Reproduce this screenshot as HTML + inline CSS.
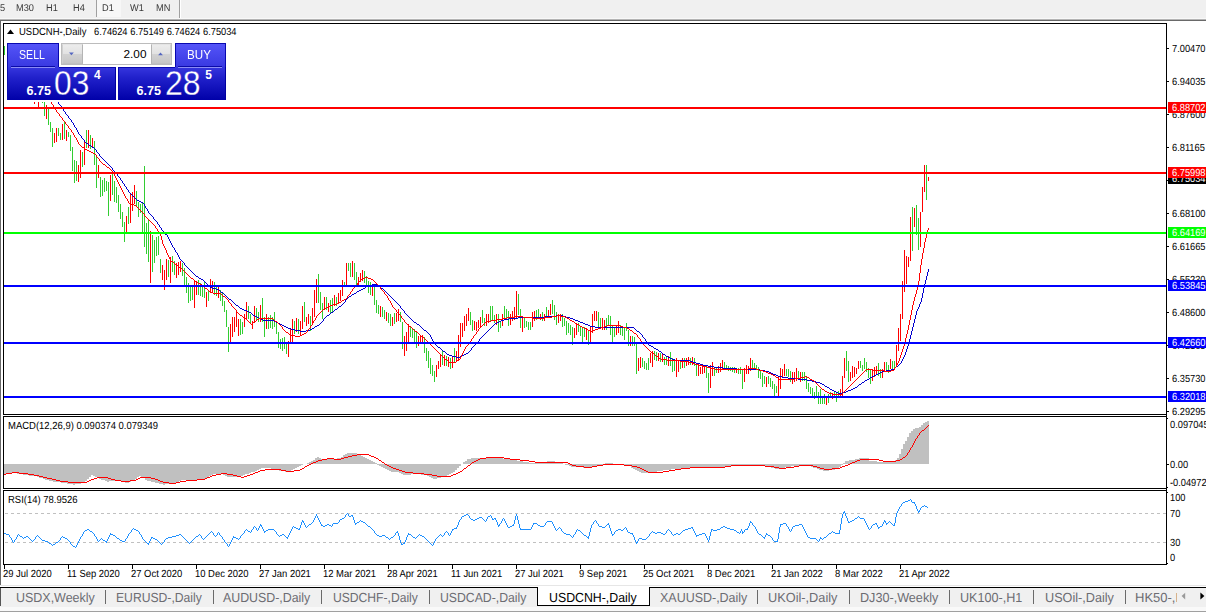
<!DOCTYPE html>
<html><head><meta charset="utf-8"><title>USDCNH-,Daily</title>
<style>
html,body{margin:0;padding:0;background:#fff;overflow:hidden}
body{width:1206px;height:612px;position:relative;font-family:"Liberation Sans",sans-serif;color:#000}
#root{position:absolute;left:0;top:0;width:1206px;height:612px;overflow:hidden;background:#fff}
#tbar{position:absolute;left:0;top:0;width:1206px;height:19px;background:#f0f0f0;filter:grayscale(1)}
#tbar span{position:absolute;top:1.9px;font-size:9.8px;line-height:11px;color:#383838;white-space:nowrap;transform:rotate(0.03deg) scaleX(.94);transform-origin:0 50%}
#tbar .vs{position:absolute;top:0;width:1px;background:#a0a0a0}
#d1bg{position:absolute;left:97px;top:0;width:24px;height:17px;background:#f7f7f7}
#band1{position:absolute;left:0;top:18px;width:1206px;height:1px;background:#f8f8f8}
#band2{position:absolute;left:0;top:19px;width:1206px;height:1px;background:#b4b4b4}
#band3{position:absolute;left:0;top:20px;width:1206px;height:1px;background:#696969}
#lbord{position:absolute;left:0;top:20px;width:1px;height:565px;background:#696969}
svg#ch{position:absolute;left:0;top:0}
.ax{position:absolute;left:1171.6px;font-size:10.3px;line-height:12px;height:12px;white-space:nowrap;transform:rotate(0.03deg) scaleX(.9);transform-origin:0 50%}
.pl{position:absolute;left:1168px;width:38px;height:11px;overflow:hidden}
.pl span{position:absolute;left:3.6px;top:0;font-size:10.3px;line-height:11px;color:#fff;white-space:nowrap;transform:rotate(0.03deg) scaleX(.9);transform-origin:0 50%}
.dt{position:absolute;top:568px;font-size:10.3px;line-height:12px;white-space:nowrap;transform:rotate(0.03deg) scaleX(.915);transform-origin:0 50%}
.ttl{position:absolute;font-size:10.3px;line-height:12px;white-space:nowrap;transform:rotate(0.03deg) scaleX(.92);transform-origin:0 50%}
/* quick trade panel */
.qb{position:absolute;box-sizing:border-box;background:linear-gradient(#5454f8 0px,#3a3ae2 22px,#2222cc 34px,#0000a8 57px);background-size:100% 57px}
#sellU{left:7px;top:43px;width:52px;height:25px;background-position:0 0;border:1px solid #0808b0;border-bottom:none}
#sellL{left:7px;top:67px;width:109px;height:33px;background-position:0 -24px;border-left:1px solid #0808b0;border-right:1px solid #0000a0}
#buyU{left:175px;top:43px;width:51px;height:25px;background-position:0 0;border:1px solid #0808b0;border-bottom:none}
#buyL{left:118px;top:67px;width:108px;height:33px;background-position:0 -24px;border-left:1px solid #0808b0;border-right:1px solid #0000a0}
.ul{position:absolute;top:66px;height:1px;background:#0a0aa8;border-bottom:1px solid #8c8cf4}
.bt{position:absolute;top:48.5px;font-size:12.2px;line-height:13px;color:#fff;white-space:nowrap;transform-origin:0 0}
.sm{position:absolute;top:84.6px;font-size:12.6px;line-height:12px;font-weight:bold;color:#fff;white-space:nowrap}
.sup{position:absolute;top:68.6px;font-size:12px;line-height:12px;font-weight:bold;color:#fff}
#spin{position:absolute;left:61px;top:43px;width:111px;height:22px;border:1px solid #bcbcbc;box-sizing:border-box;background:#fff}
.sb{position:absolute;top:0px;width:20.5px;height:20px;background:linear-gradient(#ececec,#e2e2e2 48%,#d2d2d2 52%,#c6c6c6);border:1px solid #d6d6d6;border-color:#e4e4e4 #b4b4b4 #c0c0c0 #d0d0d0;box-sizing:border-box}
#vol{position:absolute;left:100px;top:47.5px;width:46.5px;text-align:right;font-size:11.8px;line-height:13px}
/* tabs */
#tabline0{position:absolute;left:0;top:585px;width:1206px;height:1px;background:#e6e6e6}
#tabbar{position:absolute;left:0;top:587px;width:1206px;height:20px;background:#f0f0f0;border-top:1px solid #000;box-sizing:border-box;overflow:hidden}
#tabbar .tb{position:absolute;top:2.6px;font-size:13.2px;line-height:14px;color:#6c6c72;white-space:nowrap;transform:rotate(0.03deg) scaleX(.935);transform-origin:0 50%}
#tabbar .sp{position:absolute;top:2px;width:1px;height:14px;background:#6a6a6a}
#act{position:absolute;left:537px;top:587px;width:113px;height:19px;background:#fff;border:1px solid #000;border-top:none;box-sizing:border-box}
#act span{position:absolute;left:11.3px;top:3.6px;font-size:13.2px;line-height:14px;color:#000;white-space:nowrap;transform:rotate(0.03deg) scaleX(.935);transform-origin:0 50%}
#tabL{position:absolute;left:0;top:588px;width:1px;height:18px;background:#555}
#arr{position:absolute;left:1177px;top:588px;width:29px;height:19px;background:#f0f0f0}
#bot1{position:absolute;left:0;top:607px;width:1206px;height:4px;background:#f9f9f9}
#bot2{position:absolute;left:0;top:611px;width:1206px;height:1px;background:#a0a0a0}
</style></head>
<body><div id="root">
<div id="tbar">
 <div id="d1bg"></div>
 <span style="left:0px">5</span><span style="left:15.5px">M30</span><span style="left:46px">H1</span><span style="left:73px">H4</span>
 <span style="left:102.2px">D1</span><span style="left:129.7px">W1</span><span style="left:156.1px">MN</span>
 <i class="vs" style="left:96px;height:17px"></i><i class="vs" style="left:179px;height:19px"></i><i class="vs" style="left:180px;height:19px;background:#fff"></i>
</div>
<div id="band1"></div><div id="band2"></div><div id="band3"></div><div id="lbord"></div>
<svg id="ch" width="1206" height="612" viewBox="0 0 1206 612">
<defs><clipPath id="cm"><rect x="4" y="24" width="1162" height="390"/></clipPath>
<linearGradient id="pg" gradientUnits="userSpaceOnUse" x1="0" y1="43" x2="0" y2="100"><stop offset="0" stop-color="#5454f8"/><stop offset="0.386" stop-color="#3a3ae2"/><stop offset="0.596" stop-color="#2222cc"/><stop offset="1" stop-color="#0000a8"/></linearGradient></defs>
<g clip-path="url(#cm)">
<path d="M4.5 46V55 M42.5 102V103 M44.5 102 V116 M48.5 108 V125 M50.5 122 V132 M52.5 128 V147 M58.5 128 V136 M60.5 133 V140 M64.5 122 V139 M68.5 132 V137 M70.5 135 V151 M72.5 147 V171 M74.5 160 V183 M76.5 161 V181 M82.5 152 V167 M86.5 130 V148 M90.5 135 V149 M94.5 141 V165 M96.5 155 V188 M100.5 177 V197 M102.5 180 V196 M104.5 178 V192 M106.5 181 V191 M108.5 182 V216 M112.5 172 V195 M114.5 181 V202 M116.5 187 V203 M118.5 195 V212 M120.5 204 V219 M122.5 212 V227 M124.5 222 V242 M128.5 207 V224 M136.5 191 V206 M138.5 202 V217 M140.5 204 V213 M142.5 202 V234 M144.5 166 V247 M146.5 223 V254 M148.5 220 V262 M152.5 235 V272 M154.5 240 V263 M156.5 237 V256 M158.5 236 V255 M160.5 259 V273 M168.5 260 V277 M172.5 256 V272 M174.5 261 V275 M182.5 263 V276 M184.5 268 V285 M186.5 277 V293 M188.5 283 V303 M190.5 287 V301 M192.5 285 V300 M198.5 280 V295 M200.5 283 V296 M202.5 285 V297 M204.5 282 V298 M208.5 290 V301 M214.5 282 V295 M216.5 285 V296 M220.5 290 V301 M222.5 293 V306 M224.5 301 V312 M226.5 310 V327 M228.5 327 V352 M240.5 319 V335 M242.5 322 V334 M248.5 306 V319 M250.5 314 V324 M256.5 308 V321 M258.5 312 V322 M262.5 298 V322 M264.5 317 V337 M268.5 317 V329 M270.5 315 V328 M272.5 317 V329 M274.5 312 V327 M276.5 322 V334 M278.5 332 V348 M280.5 339 V349 M282.5 338 V351 M284.5 337 V349 M286.5 342 V354 M294.5 321 V334 M298.5 319 V334 M304.5 302 V322 M310.5 316 V331 M318.5 274 V303 M320.5 292 V310 M322.5 303 V319 M326.5 297 V310 M330.5 300 V313 M332.5 298 V313 M336.5 297 V306 M344.5 282 V287 M348.5 263 V271 M350.5 263 V277 M354.5 263 V280 M356.5 272 V286 M364.5 271 V283 M366.5 276 V286 M368.5 281 V293 M370.5 282 V295 M374.5 287 V305 M376.5 300 V313 M378.5 305 V314 M382.5 307 V317 M384.5 310 V319 M388.5 313 V323 M390.5 314 V326 M394.5 313 V324 M400.5 312 V322 M402.5 322 V349 M410.5 326 V337 M412.5 328 V338 M414.5 329 V342 M416.5 332 V348 M424.5 337 V353 M426.5 348 V361 M428.5 351 V368 M430.5 358 V374 M432.5 365 V376 M434.5 371 V382 M442.5 351 V365 M446.5 356 V366 M450.5 358 V369 M454.5 348 V363 M470.5 312 V325 M472.5 320 V331 M482.5 310 V323 M484.5 318 V326 M490.5 306 V321 M492.5 306 V320 M494.5 315 V323 M498.5 314 V332 M500.5 321 V328 M504.5 306 V318 M506.5 309 V318 M508.5 311 V326 M518.5 294 V315 M520.5 309 V328 M524.5 318 V328 M526.5 321 V327 M528.5 322 V330 M530.5 322 V330 M536.5 310 V320 M538.5 309 V318 M542.5 312 V321 M546.5 307 V318 M552.5 300 V314 M554.5 305 V320 M556.5 312 V325 M562.5 314 V327 M564.5 318 V326 M566.5 321 V335 M568.5 323 V333 M570.5 325 V335 M572.5 327 V345 M578.5 323 V332 M580.5 326 V336 M582.5 327 V344 M584.5 327 V337 M588.5 331 V345 M598.5 312 V328 M600.5 318 V328 M606.5 318 V330 M608.5 315 V326 M610.5 316 V335 M612.5 325 V343 M614.5 327 V337 M620.5 325 V335 M622.5 326 V336 M624.5 327 V340 M626.5 323 V331 M628.5 330 V346 M632.5 336 V346 M634.5 337 V346 M636.5 342 V374 M642.5 358 V367 M644.5 361 V369 M646.5 363 V370 M648.5 358 V370 M654.5 351 V360 M656.5 352 V361 M660.5 353 V362 M664.5 357 V365 M666.5 356 V365 M670.5 352 V366 M672.5 358 V372 M674.5 361 V371 M680.5 361 V369 M684.5 358 V368 M690.5 358 V365 M694.5 358 V366 M696.5 363 V376 M706.5 367 V378 M708.5 373 V393 M714.5 367 V376 M716.5 368 V373 M724.5 362 V368 M726.5 365 V369 M728.5 366 V371 M730.5 367 V371 M732.5 367 V372 M734.5 367 V373 M738.5 368 V374 M740.5 367 V374 M742.5 369 V389 M752.5 360 V369 M754.5 363 V369 M756.5 365 V369 M758.5 367 V378 M760.5 371 V379 M762.5 373 V387 M764.5 376 V384 M768.5 376 V384 M770.5 378 V387 M772.5 381 V389 M774.5 384 V396 M776.5 386 V393 M786.5 369 V376 M788.5 369 V377 M790.5 371 V382 M798.5 371 V379 M802.5 372 V381 M804.5 372 V381 M806.5 376 V389 M808.5 383 V392 M810.5 387 V394 M812.5 388 V398 M814.5 392 V399 M816.5 386 V398 M818.5 392 V404 M820.5 389 V404 M822.5 396 V404 M824.5 394 V404 M828.5 394 V403 M830.5 392 V398 M834.5 392 V398 M836.5 392 V402 M838.5 391 V398 M846.5 351 V371 M848.5 361 V382 M860.5 361 V368 M862.5 365 V371 M864.5 358 V369 M866.5 362 V372 M868.5 368 V378 M870.5 369 V384 M878.5 363 V376 M880.5 369 V378 M886.5 362 V371 M888.5 365 V373 M892.5 361 V369 M894.5 361 V369 M912.5 207 V251 M916.5 205 V235 M918.5 218 V250 M926.5 165 V200" stroke="#32cd32" stroke-width="1" fill="none" shape-rendering="crispEdges"/>
<path d="M34.5 102V104 M38.5 102V107 M46.5 105 V119 M54.5 133 V143 M56.5 128 V142 M62.5 124 V140 M66.5 130 V141 M78.5 165 V182 M80.5 150 V178 M84.5 140 V165 M88.5 130 V148 M92.5 138 V147 M98.5 165 V178 M110.5 175 V201 M126.5 216 V233 M130.5 193 V223 M132.5 192 V211 M134.5 185 V204 M150.5 231 V283 M162.5 265 V280 M164.5 270 V290 M166.5 259 V280 M170.5 257 V283 M176.5 263 V278 M178.5 262 V275 M180.5 261 V272 M194.5 281 V308 M196.5 281 V295 M206.5 292 V307 M210.5 279 V293 M212.5 281 V292 M218.5 286 V298 M230.5 324 V344 M232.5 317 V337 M234.5 317 V332 M236.5 311 V327 M238.5 319 V336 M244.5 314 V327 M246.5 302 V319 M252.5 321 V329 M254.5 306 V323 M260.5 305 V322 M266.5 314 V329 M288.5 341 V357 M290.5 329 V342 M292.5 319 V342 M296.5 318 V332 M300.5 321 V336 M302.5 306 V329 M306.5 317 V326 M308.5 314 V324 M312.5 308 V323 M314.5 290 V317 M316.5 279 V303 M324.5 297 V310 M328.5 303 V312 M334.5 295 V306 M338.5 293 V303 M340.5 290 V301 M342.5 280 V296 M346.5 263 V286 M352.5 261 V277 M358.5 277 V287 M360.5 273 V282 M362.5 270 V281 M372.5 286 V296 M380.5 306 V317 M386.5 312 V321 M392.5 317 V326 M396.5 313 V322 M398.5 309 V321 M404.5 336 V356 M406.5 332 V351 M408.5 324 V344 M418.5 336 V346 M420.5 336 V343 M422.5 335 V343 M436.5 365 V377 M438.5 361 V369 M440.5 355 V367 M444.5 355 V366 M448.5 357 V367 M452.5 356 V368 M456.5 351 V362 M458.5 335 V361 M460.5 323 V347 M462.5 323 V337 M464.5 316 V331 M466.5 314 V326 M468.5 308 V321 M474.5 321 V330 M476.5 322 V331 M478.5 320 V328 M480.5 317 V327 M486.5 314 V326 M488.5 314 V323 M496.5 314 V325 M502.5 314 V326 M510.5 314 V325 M512.5 311 V321 M514.5 307 V320 M516.5 291 V318 M522.5 316 V332 M532.5 312 V327 M534.5 311 V321 M540.5 314 V320 M544.5 314 V321 M548.5 310 V318 M550.5 304 V315 M558.5 314 V323 M560.5 314 V321 M574.5 328 V338 M576.5 323 V335 M586.5 328 V340 M590.5 327 V343 M592.5 314 V333 M594.5 311 V321 M596.5 311 V321 M602.5 318 V330 M604.5 320 V330 M616.5 326 V335 M618.5 321 V333 M630.5 336 V346 M638.5 358 V371 M640.5 357 V368 M650.5 353 V363 M652.5 351 V367 M658.5 353 V361 M662.5 353 V362 M668.5 356 V366 M676.5 358 V377 M678.5 361 V372 M682.5 358 V368 M686.5 358 V366 M688.5 357 V365 M692.5 357 V365 M698.5 365 V376 M700.5 367 V374 M702.5 366 V374 M704.5 366 V373 M710.5 365 V388 M712.5 362 V376 M718.5 366 V373 M720.5 363 V372 M722.5 360 V369 M736.5 368 V373 M744.5 368 V382 M746.5 365 V374 M748.5 366 V374 M750.5 358 V371 M766.5 377 V387 M778.5 376 V396 M780.5 368 V389 M782.5 369 V378 M784.5 364 V376 M792.5 372 V384 M794.5 372 V382 M796.5 368 V381 M800.5 372 V382 M826.5 396 V405 M832.5 393 V399 M840.5 389 V397 M842.5 376 V396 M844.5 358 V378 M850.5 372 V381 M852.5 366 V378 M854.5 367 V377 M856.5 368 V374 M858.5 361 V369 M872.5 369 V381 M874.5 367 V377 M876.5 366 V374 M882.5 369 V378 M884.5 362 V372 M890.5 359 V369 M896.5 345 V367 M898.5 328 V351 M900.5 314 V341 M902.5 281 V319 M904.5 250 V292 M906.5 256 V284 M908.5 257 V267 M910.5 217 V261 M914.5 208 V227 M920.5 212 V247 M922.5 187 V212 M924.5 165 V192 M928.5 177 V181" stroke="#ff0000" stroke-width="1" fill="none" shape-rendering="crispEdges"/>
<path d="M58.5 102V104M59.5 104V105M60.5 105V106M61.5 106V108M62.5 108V109M63.5 109V111M64.5 111V112M65.5 112V114M66.5 114V115M67.5 115V116M68.5 116V118M69.5 118V119M70.5 119V120M71.5 120V122M72.5 122V123M73.5 123V125M74.5 125V127M75.5 127V128M76.5 128V130M77.5 130V132M78.5 132V134M79.5 134V135M80.5 135V136M81.5 136V138M82.5 138V139M83.5 139V140M84.5 140V142M85.5 142V143M86.5 143V144M87.5 143V144M88.5 144V145M89.5 145V146M90.5 145V146M91.5 146V147M92.5 147V148M93.5 147V148M94.5 148V149M95.5 149V150M96.5 150V152M97.5 152V153M98.5 153V154M99.5 154V156M100.5 156V157M101.5 157V158M102.5 158V159M103.5 159V160M104.5 160V161M105.5 161V162M106.5 162V163M107.5 163V164M108.5 164V165M109.5 165V166M110.5 166V167M111.5 167V168M112.5 168V170M113.5 170V171M114.5 171V172M115.5 172V173M116.5 173V174M117.5 174V176M118.5 176V177M119.5 177V178M120.5 178V180M121.5 180V181M122.5 181V183M123.5 183V184M124.5 184V186M125.5 186V187M126.5 187V189M127.5 189V190M128.5 190V192M129.5 192V193M130.5 193V194M131.5 194V195M132.5 195V196M133.5 196V197M134.5 197V198M135.5 198V199M136.5 199V200M137.5 200V201M138.5 200V201M139.5 201V202M140.5 201V202M141.5 202V203M142.5 202V203M143.5 203V204M144.5 204V206M145.5 206V208M146.5 208V209M147.5 209V211M148.5 211V213M149.5 213V214M150.5 214V215M151.5 215V216M152.5 216V217M153.5 217V219M154.5 219V220M155.5 220V221M156.5 221V222M157.5 222V224M158.5 224V225M159.5 225V227M160.5 227V228M161.5 228V230M162.5 230V231M163.5 231V233M164.5 233V234M165.5 234V235M166.5 234V235M167.5 235V237M168.5 237V239M169.5 239V241M170.5 241V243M171.5 243V245M172.5 245V247M173.5 247V248M174.5 248V250M175.5 250V252M176.5 252V253M177.5 253V255M178.5 255V257M179.5 257V259M180.5 259V260M181.5 260V261M182.5 261V262M183.5 262V263M184.5 263V265M185.5 265V266M186.5 266V267M187.5 267V268M188.5 268V269M189.5 269V270M190.5 270V271M191.5 271V272M192.5 272V273M193.5 273V274M194.5 274V275M195.5 275V276M196.5 276V277M197.5 276V277M198.5 277V278M199.5 278V279M200.5 278V279M201.5 279V280M202.5 279V280M203.5 280V281M204.5 281V282M205.5 282V283M206.5 283V284M207.5 284V285M208.5 285V286M209.5 286V287M210.5 287V288M211.5 287V288M212.5 288V289M213.5 288V289M214.5 288V289M215.5 288V289M216.5 289V290M217.5 289V290M218.5 289V290M219.5 290V291M220.5 291V292M221.5 292V293M222.5 292V293M223.5 293V294M224.5 294V295M225.5 295V296M226.5 296V297M227.5 297V298M228.5 298V299M229.5 299V300M230.5 299V300M231.5 300V301M232.5 301V302M233.5 302V303M234.5 303V304M235.5 304V305M236.5 305V306M237.5 305V306M238.5 306V307M239.5 307V308M240.5 308V309M241.5 308V309M242.5 309V310M243.5 309V310M244.5 310V311M245.5 310V311M246.5 310V311M247.5 311V312M248.5 311V312M249.5 312V313M250.5 312V313M251.5 313V314M252.5 314V315M253.5 315V316M254.5 315V316M255.5 316V317M256.5 316V317M257.5 317V318M258.5 317V318M259.5 318V319M260.5 318V319M261.5 319V320M262.5 319V320M263.5 320V321M264.5 320V321M265.5 320V321M266.5 320V321M267.5 320V321M268.5 320V321M269.5 320V321M270.5 320V321M271.5 320V321M272.5 320V321M273.5 320V321M274.5 321V322M275.5 321V322M276.5 322V323M277.5 322V323M278.5 323V324M279.5 323V324M280.5 324V325M281.5 324V325M282.5 325V326M283.5 325V326M284.5 326V327M285.5 326V327M286.5 327V328M287.5 327V328M288.5 328V329M289.5 328V329M290.5 328V329M291.5 329V330M292.5 329V330M293.5 329V330M294.5 329V330M295.5 330V331M296.5 330V331M297.5 330V331M298.5 330V331M299.5 330V331M300.5 331V332M301.5 331V332M302.5 331V332M303.5 331V332M304.5 331V332M305.5 331V332M306.5 330V331M307.5 330V331M308.5 330V331M309.5 330V331M310.5 329V330M311.5 329V330M312.5 328V329M313.5 328V329M314.5 327V328M315.5 326V327M316.5 326V327M317.5 325V326M318.5 325V326M319.5 324V325M320.5 323V324M321.5 322V323M322.5 321V322M323.5 319V321M324.5 318V319M325.5 317V318M326.5 316V317M327.5 315V316M328.5 315V316M329.5 314V315M330.5 313V314M331.5 312V313M332.5 312V313M333.5 311V312M334.5 310V311M335.5 309V310M336.5 309V310M337.5 308V309M338.5 307V308M339.5 306V307M340.5 306V307M341.5 305V306M342.5 304V305M343.5 303V304M344.5 302V303M345.5 300V302M346.5 299V300M347.5 298V299M348.5 297V298M349.5 296V297M350.5 296V297M351.5 295V296M352.5 294V295M353.5 294V295M354.5 293V294M355.5 293V294M356.5 292V293M357.5 291V292M358.5 291V292M359.5 290V291M360.5 290V291M361.5 289V290M362.5 289V290M363.5 288V289M364.5 288V289M365.5 287V288M366.5 286V287M367.5 286V287M368.5 285V286M369.5 285V286M370.5 285V286M371.5 285V286M372.5 284V285M373.5 284V285M374.5 284V285M375.5 284V285M376.5 284V285M377.5 285V286M378.5 285V286M379.5 286V287M380.5 287V288M381.5 288V289M382.5 288V289M383.5 289V290M384.5 290V291M385.5 291V292M386.5 292V293M387.5 293V294M388.5 294V295M389.5 295V296M390.5 296V297M391.5 297V298M392.5 298V299M393.5 299V300M394.5 300V301M395.5 301V302M396.5 302V303M397.5 303V304M398.5 304V305M399.5 305V306M400.5 306V308M401.5 308V309M402.5 309V310M403.5 310V311M404.5 311V313M405.5 313V314M406.5 314V315M407.5 315V316M408.5 316V317M409.5 317V318M410.5 318V319M411.5 319V320M412.5 320V321M413.5 321V322M414.5 322V323M415.5 322V323M416.5 323V324M417.5 324V325M418.5 324V325M419.5 325V326M420.5 326V327M421.5 327V328M422.5 328V329M423.5 329V330M424.5 330V331M425.5 330V331M426.5 331V332M427.5 332V333M428.5 333V334M429.5 334V335M430.5 335V337M431.5 337V339M432.5 339V341M433.5 341V343M434.5 343V344M435.5 344V345M436.5 345V346M437.5 346V347M438.5 347V348M439.5 347V348M440.5 348V349M441.5 349V350M442.5 350V351M443.5 351V352M444.5 351V352M445.5 352V353M446.5 353V354M447.5 354V355M448.5 354V355M449.5 355V356M450.5 355V356M451.5 355V356M452.5 356V357M453.5 356V357M454.5 356V357M455.5 356V357M456.5 357V358M457.5 357V358M458.5 357V358M459.5 357V358M460.5 356V357M461.5 356V357M462.5 355V356M463.5 355V356M464.5 354V355M465.5 354V355M466.5 353V354M467.5 353V354M468.5 352V353M469.5 351V352M470.5 350V351M471.5 348V350M472.5 347V348M473.5 346V347M474.5 345V346M475.5 344V345M476.5 343V344M477.5 342V343M478.5 341V342M479.5 339V341M480.5 338V339M481.5 337V338M482.5 336V337M483.5 335V336M484.5 334V335M485.5 333V334M486.5 332V333M487.5 331V332M488.5 330V331M489.5 329V330M490.5 328V329M491.5 327V328M492.5 326V327M493.5 325V326M494.5 324V325M495.5 323V324M496.5 323V324M497.5 322V323M498.5 322V323M499.5 321V322M500.5 321V322M501.5 320V321M502.5 320V321M503.5 320V321M504.5 319V320M505.5 319V320M506.5 319V320M507.5 319V320M508.5 319V320M509.5 318V319M510.5 318V319M511.5 318V319M512.5 318V319M513.5 318V319M514.5 318V319M515.5 318V319M516.5 318V319M517.5 318V319M518.5 317V318M519.5 317V318M520.5 317V318M521.5 317V318M522.5 317V318M523.5 317V318M524.5 317V318M525.5 317V318M526.5 317V318M527.5 317V318M528.5 317V318M529.5 317V318M530.5 317V318M531.5 317V318M532.5 317V318M533.5 317V318M534.5 317V318M535.5 317V318M536.5 317V318M537.5 317V318M538.5 317V318M539.5 317V318M540.5 317V318M541.5 317V318M542.5 317V318M543.5 317V318M544.5 317V318M545.5 316V317M546.5 316V317M547.5 316V317M548.5 316V317M549.5 316V317M550.5 316V317M551.5 316V317M552.5 316V317M553.5 316V317M554.5 316V317M555.5 316V317M556.5 315V316M557.5 315V316M558.5 315V316M559.5 315V316M560.5 315V316M561.5 315V316M562.5 315V316M563.5 316V317M564.5 316V317M565.5 316V317M566.5 317V318M567.5 317V318M568.5 317V318M569.5 317V318M570.5 318V319M571.5 318V319M572.5 318V319M573.5 319V320M574.5 319V320M575.5 320V321M576.5 320V321M577.5 320V321M578.5 321V322M579.5 321V322M580.5 322V323M581.5 322V323M582.5 322V323M583.5 323V324M584.5 323V324M585.5 324V325M586.5 324V325M587.5 324V325M588.5 325V326M589.5 325V326M590.5 326V327M591.5 326V327M592.5 326V327M593.5 326V327M594.5 326V327M595.5 327V328M596.5 327V328M597.5 327V328M598.5 327V328M599.5 327V328M600.5 327V328M601.5 327V328M602.5 327V328M603.5 327V328M604.5 327V328M605.5 327V328M606.5 327V328M607.5 327V328M608.5 327V328M609.5 327V328M610.5 327V328M611.5 327V328M612.5 327V328M613.5 327V328M614.5 327V328M615.5 327V328M616.5 327V328M617.5 327V328M618.5 327V328M619.5 327V328M620.5 327V328M621.5 327V328M622.5 327V328M623.5 327V328M624.5 327V328M625.5 327V328M626.5 327V328M627.5 327V328M628.5 327V328M629.5 327V328M630.5 327V328M631.5 327V328M632.5 327V328M633.5 327V328M634.5 328V329M635.5 329V330M636.5 330V331M637.5 331V332M638.5 331V332M639.5 332V333M640.5 333V334M641.5 334V335M642.5 335V337M643.5 337V338M644.5 338V339M645.5 339V341M646.5 341V342M647.5 342V344M648.5 344V345M649.5 345V346M650.5 345V346M651.5 346V347M652.5 346V347M653.5 347V348M654.5 348V349M655.5 348V349M656.5 349V350M657.5 349V350M658.5 350V351M659.5 351V352M660.5 351V352M661.5 352V353M662.5 353V354M663.5 354V355M664.5 354V355M665.5 355V356M666.5 356V357M667.5 356V357M668.5 357V358M669.5 357V358M670.5 358V359M671.5 358V359M672.5 359V360M673.5 359V360M674.5 359V360M675.5 360V361M676.5 360V361M677.5 360V361M678.5 360V361M679.5 360V361M680.5 360V361M681.5 360V361M682.5 360V361M683.5 360V361M684.5 360V361M685.5 360V361M686.5 360V361M687.5 360V361M688.5 360V361M689.5 360V361M690.5 361V362M691.5 361V362M692.5 361V362M693.5 362V363M694.5 362V363M695.5 362V363M696.5 363V364M697.5 363V364M698.5 363V364M699.5 363V364M700.5 364V365M701.5 364V365M702.5 364V365M703.5 365V366M704.5 365V366M705.5 365V366M706.5 365V366M707.5 365V366M708.5 366V367M709.5 366V367M710.5 366V367M711.5 366V367M712.5 366V367M713.5 366V367M714.5 367V368M715.5 367V368M716.5 367V368M717.5 367V368M718.5 367V368M719.5 367V368M720.5 367V368M721.5 367V368M722.5 367V368M723.5 368V369M724.5 368V369M725.5 368V369M726.5 368V369M727.5 368V369M728.5 368V369M729.5 368V369M730.5 368V369M731.5 368V369M732.5 368V369M733.5 368V369M734.5 368V369M735.5 368V369M736.5 368V369M737.5 369V370M738.5 369V370M739.5 369V370M740.5 369V370M741.5 369V370M742.5 369V370M743.5 369V370M744.5 369V370M745.5 369V370M746.5 369V370M747.5 369V370M748.5 369V370M749.5 369V370M750.5 369V370M751.5 369V370M752.5 369V370M753.5 369V370M754.5 369V370M755.5 369V370M756.5 369V370M757.5 369V370M758.5 369V370M759.5 369V370M760.5 370V371M761.5 370V371M762.5 370V371M763.5 370V371M764.5 370V371M765.5 371V372M766.5 371V372M767.5 371V372M768.5 371V372M769.5 372V373M770.5 372V373M771.5 373V374M772.5 373V374M773.5 374V375M774.5 374V375M775.5 374V375M776.5 375V376M777.5 375V376M778.5 376V377M779.5 376V377M780.5 376V377M781.5 376V377M782.5 377V378M783.5 377V378M784.5 377V378M785.5 377V378M786.5 377V378M787.5 377V378M788.5 378V379M789.5 378V379M790.5 378V379M791.5 378V379M792.5 378V379M793.5 378V379M794.5 378V379M795.5 378V379M796.5 378V379M797.5 378V379M798.5 379V380M799.5 379V380M800.5 379V380M801.5 379V380M802.5 379V380M803.5 379V380M804.5 379V380M805.5 379V380M806.5 379V380M807.5 380V381M808.5 380V381M809.5 380V381M810.5 380V381M811.5 380V381M812.5 381V382M813.5 381V382M814.5 381V382M815.5 381V382M816.5 382V383M817.5 382V383M818.5 382V383M819.5 382V383M820.5 383V384M821.5 383V384M822.5 384V385M823.5 384V385M824.5 385V386M825.5 386V387M826.5 386V387M827.5 387V388M828.5 387V388M829.5 388V389M830.5 389V390M831.5 389V390M832.5 390V391M833.5 390V391M834.5 391V392M835.5 391V392M836.5 392V393M837.5 392V393M838.5 393V394M839.5 393V394M840.5 393V394M841.5 393V394M842.5 392V393M843.5 392V393M844.5 392V393M845.5 392V393M846.5 391V392M847.5 391V392M848.5 390V391M849.5 390V391M850.5 390V391M851.5 389V390M852.5 389V390M853.5 388V389M854.5 388V389M855.5 387V388M856.5 387V388M857.5 386V387M858.5 385V386M859.5 384V385M860.5 384V385M861.5 383V384M862.5 382V383M863.5 382V383M864.5 381V382M865.5 380V381M866.5 380V381M867.5 379V380M868.5 379V380M869.5 378V379M870.5 377V378M871.5 377V378M872.5 376V377M873.5 376V377M874.5 375V376M875.5 375V376M876.5 374V375M877.5 374V375M878.5 373V374M879.5 373V374M880.5 372V373M881.5 372V373M882.5 371V372M883.5 371V372M884.5 371V372M885.5 371V372M886.5 370V371M887.5 370V371M888.5 370V371M889.5 370V371M890.5 370V371M891.5 369V370M892.5 369V370M893.5 369V370M894.5 368V369M895.5 367V368M896.5 366V367M897.5 366V367M898.5 365V366M899.5 364V365M900.5 363V364M901.5 361V363M902.5 359V361M903.5 357V359M904.5 355V357M905.5 352V355M906.5 349V352M907.5 346V349M908.5 342V346M909.5 339V342M910.5 335V339M911.5 331V335M912.5 327V331M913.5 323V327M914.5 319V323M915.5 315V319M916.5 311V315M917.5 309V311M918.5 307V309M919.5 304V307M920.5 302V304M921.5 298V302M922.5 293V298M923.5 288V293M924.5 284V288M925.5 280V284M926.5 276V280M927.5 272V276M928.5 269V272" stroke="#0000cd" stroke-width="1" fill="none" shape-rendering="crispEdges"/>
<path d="M51.5 102V104M52.5 104V105M53.5 105V107M54.5 107V109M55.5 109V110M56.5 110V112M57.5 112V113M58.5 113V114M59.5 114V116M60.5 116V117M61.5 117V118M62.5 118V120M63.5 120V121M64.5 121V122M65.5 122V124M66.5 124V125M67.5 125V126M68.5 126V128M69.5 128V129M70.5 129V130M71.5 130V132M72.5 132V133M73.5 133V135M74.5 135V137M75.5 137V138M76.5 138V140M77.5 140V142M78.5 142V144M79.5 144V145M80.5 145V146M81.5 146V147M82.5 147V148M83.5 147V148M84.5 148V149M85.5 149V150M86.5 149V150M87.5 150V151M88.5 150V151M89.5 151V152M90.5 151V152M91.5 152V153M92.5 152V153M93.5 153V154M94.5 153V154M95.5 154V155M96.5 155V157M97.5 157V158M98.5 158V159M99.5 159V161M100.5 161V162M101.5 162V163M102.5 163V164M103.5 164V165M104.5 164V165M105.5 165V166M106.5 166V167M107.5 167V168M108.5 167V168M109.5 168V169M110.5 169V170M111.5 170V171M112.5 171V173M113.5 173V174M114.5 174V176M115.5 176V178M116.5 178V180M117.5 180V182M118.5 182V184M119.5 184V186M120.5 186V188M121.5 188V190M122.5 190V192M123.5 192V194M124.5 194V196M125.5 196V198M126.5 198V199M127.5 199V201M128.5 201V203M129.5 203V204M130.5 203V204M131.5 204V205M132.5 204V205M133.5 204V205M134.5 205V206M135.5 205V206M136.5 206V207M137.5 207V208M138.5 208V209M139.5 209V210M140.5 210V211M141.5 211V212M142.5 212V213M143.5 213V214M144.5 214V216M145.5 216V217M146.5 217V218M147.5 218V219M148.5 219V220M149.5 220V221M150.5 221V222M151.5 222V223M152.5 223V224M153.5 224V225M154.5 225V226M155.5 226V228M156.5 228V229M157.5 229V231M158.5 231V232M159.5 232V234M160.5 234V236M161.5 236V240M162.5 240V244M163.5 244V246M164.5 246V248M165.5 248V250M166.5 250V253M167.5 253V255M168.5 255V257M169.5 257V259M170.5 259V261M171.5 261V262M172.5 261V262M173.5 262V263M174.5 263V264M175.5 264V265M176.5 264V265M177.5 265V266M178.5 266V267M179.5 267V268M180.5 267V268M181.5 268V269M182.5 269V270M183.5 270V271M184.5 271V272M185.5 272V273M186.5 273V274M187.5 274V275M188.5 275V276M189.5 276V277M190.5 277V278M191.5 278V279M192.5 278V279M193.5 279V280M194.5 280V281M195.5 281V282M196.5 281V282M197.5 282V283M198.5 283V284M199.5 283V284M200.5 284V285M201.5 284V285M202.5 285V286M203.5 286V287M204.5 287V288M205.5 288V289M206.5 288V289M207.5 289V290M208.5 290V291M209.5 291V292M210.5 291V292M211.5 292V293M212.5 292V293M213.5 293V294M214.5 293V294M215.5 293V294M216.5 293V294M217.5 293V294M218.5 293V294M219.5 293V294M220.5 293V294M221.5 294V295M222.5 295V296M223.5 296V297M224.5 296V297M225.5 297V298M226.5 298V299M227.5 299V300M228.5 300V302M229.5 302V303M230.5 303V304M231.5 304V306M232.5 306V307M233.5 307V308M234.5 308V309M235.5 309V310M236.5 310V312M237.5 312V313M238.5 313V314M239.5 314V315M240.5 315V316M241.5 315V316M242.5 316V317M243.5 317V318M244.5 317V318M245.5 318V319M246.5 319V320M247.5 320V321M248.5 321V322M249.5 322V323M250.5 323V324M251.5 324V325M252.5 323V324M253.5 322V323M254.5 322V323M255.5 321V322M256.5 320V321M257.5 319V320M258.5 319V320M259.5 318V319M260.5 318V319M261.5 318V319M262.5 318V319M263.5 318V319M264.5 318V319M265.5 318V319M266.5 318V319M267.5 318V319M268.5 318V319M269.5 318V319M270.5 318V319M271.5 318V319M272.5 318V319M273.5 319V320M274.5 320V321M275.5 321V322M276.5 321V322M277.5 322V323M278.5 323V324M279.5 324V325M280.5 325V326M281.5 326V327M282.5 327V329M283.5 329V330M284.5 330V331M285.5 331V332M286.5 332V333M287.5 332V333M288.5 333V334M289.5 334V335M290.5 334V335M291.5 335V336M292.5 335V336M293.5 335V336M294.5 335V336M295.5 336V337M296.5 336V337M297.5 336V337M298.5 336V337M299.5 336V337M300.5 335V336M301.5 335V336M302.5 334V335M303.5 334V335M304.5 333V334M305.5 333V334M306.5 332V333M307.5 330V332M308.5 329V330M309.5 328V329M310.5 326V328M311.5 325V326M312.5 323V325M313.5 321V323M314.5 320V321M315.5 318V320M316.5 316V318M317.5 315V316M318.5 314V315M319.5 313V314M320.5 312V313M321.5 311V312M322.5 310V311M323.5 309V310M324.5 308V309M325.5 308V309M326.5 307V308M327.5 307V308M328.5 306V307M329.5 306V307M330.5 305V306M331.5 305V306M332.5 305V306M333.5 304V305M334.5 304V305M335.5 304V305M336.5 304V305M337.5 303V304M338.5 303V304M339.5 302V303M340.5 302V303M341.5 301V302M342.5 300V301M343.5 300V301M344.5 299V300M345.5 299V300M346.5 298V299M347.5 296V298M348.5 295V296M349.5 294V295M350.5 292V294M351.5 291V292M352.5 289V291M353.5 288V289M354.5 287V288M355.5 286V287M356.5 285V286M357.5 283V285M358.5 282V283M359.5 281V282M360.5 280V281M361.5 279V280M362.5 279V280M363.5 278V279M364.5 278V279M365.5 277V278M366.5 277V278M367.5 277V278M368.5 278V279M369.5 278V279M370.5 278V279M371.5 279V280M372.5 279V280M373.5 280V281M374.5 281V282M375.5 282V283M376.5 283V284M377.5 284V285M378.5 285V286M379.5 286V287M380.5 287V289M381.5 289V290M382.5 290V291M383.5 291V292M384.5 292V294M385.5 294V295M386.5 295V296M387.5 296V298M388.5 298V300M389.5 300V301M390.5 301V303M391.5 303V305M392.5 305V307M393.5 307V308M394.5 308V309M395.5 309V310M396.5 310V312M397.5 312V313M398.5 313V314M399.5 314V315M400.5 315V316M401.5 316V318M402.5 318V319M403.5 319V320M404.5 320V322M405.5 322V323M406.5 323V324M407.5 324V325M408.5 325V326M409.5 326V327M410.5 326V327M411.5 327V328M412.5 328V329M413.5 329V330M414.5 330V331M415.5 331V332M416.5 331V332M417.5 332V333M418.5 333V334M419.5 334V335M420.5 335V336M421.5 336V337M422.5 336V337M423.5 337V338M424.5 338V339M425.5 339V340M426.5 340V341M427.5 341V342M428.5 342V343M429.5 343V344M430.5 344V345M431.5 345V346M432.5 346V347M433.5 347V348M434.5 348V349M435.5 349V350M436.5 350V351M437.5 351V352M438.5 352V353M439.5 353V354M440.5 354V355M441.5 355V356M442.5 356V357M443.5 357V358M444.5 358V359M445.5 359V360M446.5 359V360M447.5 360V361M448.5 361V362M449.5 362V363M450.5 362V363M451.5 362V363M452.5 362V363M453.5 362V363M454.5 362V363M455.5 362V363M456.5 361V362M457.5 360V361M458.5 360V361M459.5 359V360M460.5 357V359M461.5 355V357M462.5 353V355M463.5 351V353M464.5 349V351M465.5 347V349M466.5 346V347M467.5 345V346M468.5 343V345M469.5 342V343M470.5 341V342M471.5 339V341M472.5 338V339M473.5 336V338M474.5 335V336M475.5 334V335M476.5 332V334M477.5 331V332M478.5 329V331M479.5 328V329M480.5 327V328M481.5 326V327M482.5 325V326M483.5 324V325M484.5 323V324M485.5 322V323M486.5 322V323M487.5 321V322M488.5 321V322M489.5 321V322M490.5 321V322M491.5 320V321M492.5 320V321M493.5 320V321M494.5 320V321M495.5 320V321M496.5 319V320M497.5 319V320M498.5 319V320M499.5 319V320M500.5 319V320M501.5 319V320M502.5 318V319M503.5 318V319M504.5 318V319M505.5 318V319M506.5 318V319M507.5 317V318M508.5 317V318M509.5 317V318M510.5 317V318M511.5 317V318M512.5 317V318M513.5 317V318M514.5 316V317M515.5 316V317M516.5 316V317M517.5 316V317M518.5 316V317M519.5 316V317M520.5 316V317M521.5 316V317M522.5 316V317M523.5 317V318M524.5 317V318M525.5 317V318M526.5 317V318M527.5 317V318M528.5 317V318M529.5 317V318M530.5 317V318M531.5 317V318M532.5 317V318M533.5 318V319M534.5 318V319M535.5 318V319M536.5 318V319M537.5 318V319M538.5 318V319M539.5 318V319M540.5 318V319M541.5 318V319M542.5 318V319M543.5 318V319M544.5 317V318M545.5 317V318M546.5 317V318M547.5 317V318M548.5 317V318M549.5 317V318M550.5 317V318M551.5 317V318M552.5 316V317M553.5 316V317M554.5 316V317M555.5 316V317M556.5 316V317M557.5 315V316M558.5 315V316M559.5 315V316M560.5 315V316M561.5 316V317M562.5 316V317M563.5 316V317M564.5 316V317M565.5 317V318M566.5 317V318M567.5 318V319M568.5 318V319M569.5 319V320M570.5 320V321M571.5 320V321M572.5 321V322M573.5 321V322M574.5 322V323M575.5 323V324M576.5 323V324M577.5 324V325M578.5 324V325M579.5 325V326M580.5 326V327M581.5 326V327M582.5 327V328M583.5 327V328M584.5 328V329M585.5 328V329M586.5 329V330M587.5 329V330M588.5 330V331M589.5 330V331M590.5 331V332M591.5 331V332M592.5 331V332M593.5 330V331M594.5 330V331M595.5 329V330M596.5 329V330M597.5 329V330M598.5 328V329M599.5 328V329M600.5 328V329M601.5 327V328M602.5 327V328M603.5 327V328M604.5 326V327M605.5 326V327M606.5 326V327M607.5 325V326M608.5 325V326M609.5 325V326M610.5 325V326M611.5 325V326M612.5 325V326M613.5 325V326M614.5 325V326M615.5 325V326M616.5 325V326M617.5 325V326M618.5 325V326M619.5 325V326M620.5 326V327M621.5 326V327M622.5 326V327M623.5 327V328M624.5 327V328M625.5 327V328M626.5 327V328M627.5 328V329M628.5 328V329M629.5 329V330M630.5 330V331M631.5 330V331M632.5 331V332M633.5 332V333M634.5 333V334M635.5 333V334M636.5 334V335M637.5 335V337M638.5 337V338M639.5 338V339M640.5 339V341M641.5 341V342M642.5 342V344M643.5 344V345M644.5 345V346M645.5 346V347M646.5 347V348M647.5 348V349M648.5 349V350M649.5 350V351M650.5 351V352M651.5 352V353M652.5 353V354M653.5 353V354M654.5 354V355M655.5 355V356M656.5 356V357M657.5 356V357M658.5 357V358M659.5 358V359M660.5 358V359M661.5 359V360M662.5 359V360M663.5 359V360M664.5 359V360M665.5 359V360M666.5 359V360M667.5 360V361M668.5 360V361M669.5 360V361M670.5 360V361M671.5 360V361M672.5 360V361M673.5 360V361M674.5 360V361M675.5 360V361M676.5 360V361M677.5 360V361M678.5 360V361M679.5 360V361M680.5 361V362M681.5 361V362M682.5 361V362M683.5 361V362M684.5 361V362M685.5 361V362M686.5 361V362M687.5 361V362M688.5 362V363M689.5 362V363M690.5 362V363M691.5 362V363M692.5 363V364M693.5 363V364M694.5 363V364M695.5 364V365M696.5 364V365M697.5 364V365M698.5 364V365M699.5 365V366M700.5 365V366M701.5 365V366M702.5 365V366M703.5 366V367M704.5 366V367M705.5 366V367M706.5 366V367M707.5 367V368M708.5 367V368M709.5 367V368M710.5 367V368M711.5 368V369M712.5 368V369M713.5 368V369M714.5 368V369M715.5 369V370M716.5 369V370M717.5 369V370M718.5 369V370M719.5 369V370M720.5 369V370M721.5 369V370M722.5 369V370M723.5 369V370M724.5 369V370M725.5 369V370M726.5 369V370M727.5 369V370M728.5 369V370M729.5 369V370M730.5 369V370M731.5 369V370M732.5 369V370M733.5 369V370M734.5 369V370M735.5 369V370M736.5 369V370M737.5 369V370M738.5 369V370M739.5 369V370M740.5 369V370M741.5 369V370M742.5 369V370M743.5 369V370M744.5 369V370M745.5 369V370M746.5 369V370M747.5 369V370M748.5 368V369M749.5 368V369M750.5 368V369M751.5 368V369M752.5 368V369M753.5 368V369M754.5 368V369M755.5 368V369M756.5 369V370M757.5 369V370M758.5 369V370M759.5 370V371M760.5 370V371M761.5 370V371M762.5 370V371M763.5 371V372M764.5 371V372M765.5 371V372M766.5 372V373M767.5 372V373M768.5 373V374M769.5 373V374M770.5 373V374M771.5 374V375M772.5 374V375M773.5 375V376M774.5 375V376M775.5 376V377M776.5 377V378M777.5 377V378M778.5 378V379M779.5 379V380M780.5 379V380M781.5 379V380M782.5 379V380M783.5 379V380M784.5 379V380M785.5 379V380M786.5 379V380M787.5 379V380M788.5 379V380M789.5 379V380M790.5 379V380M791.5 379V380M792.5 379V380M793.5 379V380M794.5 379V380M795.5 378V379M796.5 378V379M797.5 378V379M798.5 378V379M799.5 378V379M800.5 378V379M801.5 377V378M802.5 377V378M803.5 377V378M804.5 377V378M805.5 376V377M806.5 376V377M807.5 377V378M808.5 377V378M809.5 378V379M810.5 379V380M811.5 379V380M812.5 380V381M813.5 380V381M814.5 381V382M815.5 382V383M816.5 383V384M817.5 384V385M818.5 385V386M819.5 386V387M820.5 387V388M821.5 388V389M822.5 389V390M823.5 389V390M824.5 390V391M825.5 391V392M826.5 391V392M827.5 392V393M828.5 392V393M829.5 393V394M830.5 393V394M831.5 393V394M832.5 393V394M833.5 394V395M834.5 394V395M835.5 394V395M836.5 394V395M837.5 394V395M838.5 394V395M839.5 394V395M840.5 394V395M841.5 394V395M842.5 393V394M843.5 392V393M844.5 391V392M845.5 390V391M846.5 389V390M847.5 388V389M848.5 387V388M849.5 386V387M850.5 385V386M851.5 384V385M852.5 383V384M853.5 382V383M854.5 381V382M855.5 380V381M856.5 379V380M857.5 378V379M858.5 377V378M859.5 376V377M860.5 375V376M861.5 374V375M862.5 373V374M863.5 372V373M864.5 371V372M865.5 370V371M866.5 369V370M867.5 369V370M868.5 369V370M869.5 369V370M870.5 369V370M871.5 369V370M872.5 369V370M873.5 370V371M874.5 370V371M875.5 370V371M876.5 370V371M877.5 370V371M878.5 370V371M879.5 370V371M880.5 370V371M881.5 370V371M882.5 370V371M883.5 370V371M884.5 371V372M885.5 371V372M886.5 371V372M887.5 371V372M888.5 371V372M889.5 371V372M890.5 371V372M891.5 370V371M892.5 370V371M893.5 370V371M894.5 368V370M895.5 367V368M896.5 365V367M897.5 363V365M898.5 361V363M899.5 358V361M900.5 355V358M901.5 352V355M902.5 349V352M903.5 346V349M904.5 342V346M905.5 338V342M906.5 334V338M907.5 330V334M908.5 325V330M909.5 320V325M910.5 315V320M911.5 310V315M912.5 305V310M913.5 301V305M914.5 297V301M915.5 294V297M916.5 290V294M917.5 286V290M918.5 281V286M919.5 273V281M920.5 265V273M921.5 259V265M922.5 253V259M923.5 248V253M924.5 242V248M925.5 238V242M926.5 234V238M927.5 230V234M928.5 228V230" stroke="#ff0000" stroke-width="1" fill="none" shape-rendering="crispEdges"/>
</g>
<rect x="4" y="107" width="1162" height="2" fill="#ff0000"/>
<rect x="4" y="172" width="1162" height="2" fill="#ff0000"/>
<rect x="4" y="232" width="1162" height="2" fill="#00ff00"/>
<rect x="4" y="285" width="1162" height="2" fill="#0000ff"/>
<rect x="4" y="342" width="1162" height="2" fill="#0000ff"/>
<rect x="4" y="396" width="1162" height="2" fill="#0000ff"/>
<path d="M4 464.0 L4 475 L5 475 L5 474 L7 474 L7 474 L9 474 L9 473 L11 473 L11 473 L13 473 L13 473 L15 473 L15 473 L17 473 L17 474 L19 474 L19 474 L21 474 L21 474 L23 474 L23 475 L25 475 L25 475 L27 475 L27 475 L29 475 L29 476 L31 476 L31 476 L33 476 L33 476 L35 476 L35 476 L37 476 L37 477 L39 477 L39 478 L41 478 L41 478 L43 478 L43 479 L45 479 L45 480 L47 480 L47 480 L49 480 L49 481 L51 481 L51 481 L53 481 L53 482 L55 482 L55 482 L57 482 L57 482 L59 482 L59 482 L61 482 L61 483 L63 483 L63 483 L65 483 L65 483 L67 483 L67 484 L69 484 L69 484 L71 484 L71 484 L73 484 L73 485 L75 485 L75 484 L77 484 L77 484 L79 484 L79 484 L81 484 L81 483 L83 483 L83 483 L85 483 L85 481 L87 481 L87 479 L89 479 L89 477 L91 477 L91 475 L93 475 L93 476 L95 476 L95 477 L97 477 L97 478 L99 478 L99 479 L101 479 L101 480 L103 480 L103 480 L105 480 L105 481 L107 481 L107 482 L109 482 L109 481 L111 481 L111 481 L113 481 L113 481 L115 481 L115 480 L117 480 L117 481 L119 481 L119 481 L121 481 L121 482 L123 482 L123 482 L125 482 L125 483 L127 483 L127 483 L129 483 L129 482 L131 482 L131 481 L133 481 L133 480 L135 480 L135 479 L137 479 L137 477 L139 477 L139 476 L141 476 L141 477 L143 477 L143 478 L145 478 L145 480 L147 480 L147 481 L149 481 L149 481 L151 481 L151 482 L153 482 L153 482 L155 482 L155 483 L157 483 L157 483 L159 483 L159 484 L161 484 L161 484 L163 484 L163 485 L165 485 L165 484 L167 484 L167 484 L169 484 L169 484 L171 484 L171 484 L173 484 L173 483 L175 483 L175 483 L177 483 L177 482 L179 482 L179 481 L181 481 L181 480 L183 480 L183 480 L185 480 L185 480 L187 480 L187 480 L189 480 L189 480 L191 480 L191 480 L193 480 L193 480 L195 480 L195 480 L197 480 L197 480 L199 480 L199 479 L201 479 L201 479 L203 479 L203 479 L205 479 L205 478 L207 478 L207 477 L209 477 L209 476 L211 476 L211 475 L213 475 L213 474 L215 474 L215 474 L217 474 L217 474 L219 474 L219 474 L221 474 L221 474 L223 474 L223 475 L225 475 L225 476 L227 476 L227 477 L229 477 L229 477 L231 477 L231 477 L233 477 L233 477 L235 477 L235 477 L237 477 L237 477 L239 477 L239 477 L241 477 L241 476 L243 476 L243 475 L245 475 L245 474 L247 474 L247 474 L249 474 L249 473 L251 473 L251 472 L253 472 L253 472 L255 472 L255 471 L257 471 L257 470 L259 470 L259 469 L261 469 L261 468 L263 468 L263 468 L265 468 L265 468 L267 468 L267 468 L269 468 L269 468 L271 468 L271 469 L273 469 L273 469 L275 469 L275 470 L277 470 L277 470 L279 470 L279 471 L281 471 L281 471 L283 471 L283 471 L285 471 L285 472 L287 472 L287 472 L289 472 L289 471 L291 471 L291 470 L293 470 L293 469 L295 469 L295 468 L297 468 L297 467 L299 467 L299 466 L301 466 L301 465 L303 465 L303 464 L305 464 L305 464 L307 464 L307 463 L309 463 L309 462 L311 462 L311 461 L313 461 L313 460 L315 460 L315 458 L317 458 L317 457 L319 457 L319 458 L321 458 L321 459 L323 459 L323 459 L325 459 L325 459 L327 459 L327 459 L329 459 L329 459 L331 459 L331 459 L333 459 L333 459 L335 459 L335 459 L337 459 L337 458 L339 458 L339 458 L341 458 L341 457 L343 457 L343 455 L345 455 L345 454 L347 454 L347 453 L349 453 L349 453 L351 453 L351 453 L353 453 L353 453 L355 453 L355 453 L357 453 L357 454 L359 454 L359 455 L361 455 L361 456 L363 456 L363 457 L365 457 L365 458 L367 458 L367 459 L369 459 L369 460 L371 460 L371 461 L373 461 L373 462 L375 462 L375 463 L377 463 L377 465 L379 465 L379 466 L381 466 L381 467 L383 467 L383 468 L385 468 L385 469 L387 469 L387 470 L389 470 L389 471 L391 471 L391 472 L393 472 L393 472 L395 472 L395 472 L397 472 L397 472 L399 472 L399 473 L401 473 L401 474 L403 474 L403 475 L405 475 L405 475 L407 475 L407 475 L409 475 L409 475 L411 475 L411 474 L413 474 L413 474 L415 474 L415 474 L417 474 L417 474 L419 474 L419 474 L421 474 L421 475 L423 475 L423 475 L425 475 L425 475 L427 475 L427 476 L429 476 L429 477 L431 477 L431 478 L433 478 L433 479 L435 479 L435 479 L437 479 L437 478 L439 478 L439 478 L441 478 L441 477 L443 477 L443 476 L445 476 L445 476 L447 476 L447 475 L449 475 L449 474 L451 474 L451 473 L453 473 L453 472 L455 472 L455 470 L457 470 L457 468 L459 468 L459 466 L461 466 L461 464 L463 464 L463 462 L465 462 L465 461 L467 461 L467 459 L469 459 L469 459 L471 459 L471 458 L473 458 L473 458 L475 458 L475 458 L477 458 L477 458 L479 458 L479 458 L481 458 L481 458 L483 458 L483 458 L485 458 L485 458 L487 458 L487 458 L489 458 L489 457 L491 457 L491 457 L493 457 L493 457 L495 457 L495 458 L497 458 L497 458 L499 458 L499 458 L501 458 L501 458 L503 458 L503 459 L505 459 L505 459 L507 459 L507 459 L509 459 L509 459 L511 459 L511 460 L513 460 L513 460 L515 460 L515 460 L517 460 L517 461 L519 461 L519 461 L521 461 L521 461 L523 461 L523 462 L525 462 L525 462 L527 462 L527 462 L529 462 L529 463 L531 463 L531 463 L533 463 L533 463 L535 463 L535 463 L537 463 L537 463 L539 463 L539 462 L541 462 L541 462 L543 462 L543 462 L545 462 L545 462 L547 462 L547 461 L549 461 L549 461 L551 461 L551 461 L553 461 L553 461 L555 461 L555 462 L557 462 L557 462 L559 462 L559 462 L561 462 L561 463 L563 463 L563 464 L565 464 L565 465 L567 465 L567 465 L569 465 L569 466 L571 466 L571 467 L573 467 L573 467 L575 467 L575 467 L577 467 L577 467 L579 467 L579 467 L581 467 L581 467 L583 467 L583 468 L585 468 L585 468 L587 468 L587 468 L589 468 L589 468 L591 468 L591 467 L593 467 L593 467 L595 467 L595 466 L597 466 L597 466 L599 466 L599 465 L601 465 L601 465 L603 465 L603 464 L605 464 L605 463 L607 463 L607 463 L609 463 L609 463 L611 463 L611 463 L613 463 L613 464 L615 464 L615 464 L617 464 L617 464 L619 464 L619 464 L621 464 L621 464 L623 464 L623 465 L625 465 L625 465 L627 465 L627 465 L629 465 L629 466 L631 466 L631 468 L633 468 L633 469 L635 469 L635 470 L637 470 L637 471 L639 471 L639 472 L641 472 L641 473 L643 473 L643 473 L645 473 L645 473 L647 473 L647 473 L649 473 L649 473 L651 473 L651 473 L653 473 L653 472 L655 472 L655 472 L657 472 L657 471 L659 471 L659 471 L661 471 L661 471 L663 471 L663 470 L665 470 L665 470 L667 470 L667 470 L669 470 L669 470 L671 470 L671 469 L673 469 L673 469 L675 469 L675 469 L677 469 L677 469 L679 469 L679 469 L681 469 L681 469 L683 469 L683 469 L685 469 L685 468 L687 468 L687 468 L689 468 L689 468 L691 468 L691 468 L693 468 L693 468 L695 468 L695 467 L697 467 L697 467 L699 467 L699 468 L701 468 L701 468 L703 468 L703 468 L705 468 L705 468 L707 468 L707 468 L709 468 L709 468 L711 468 L711 468 L713 468 L713 468 L715 468 L715 468 L717 468 L717 468 L719 468 L719 467 L721 467 L721 467 L723 467 L723 467 L725 467 L725 467 L727 467 L727 467 L729 467 L729 466 L731 466 L731 466 L733 466 L733 466 L735 466 L735 466 L737 466 L737 466 L739 466 L739 465 L741 465 L741 465 L743 465 L743 465 L745 465 L745 465 L747 465 L747 465 L749 465 L749 465 L751 465 L751 465 L753 465 L753 465 L755 465 L755 465 L757 465 L757 465 L759 465 L759 465 L761 465 L761 466 L763 466 L763 466 L765 466 L765 466 L767 466 L767 467 L769 467 L769 467 L771 467 L771 468 L773 468 L773 468 L775 468 L775 469 L777 469 L777 469 L779 469 L779 469 L781 469 L781 468 L783 468 L783 468 L785 468 L785 467 L787 467 L787 467 L789 467 L789 467 L791 467 L791 466 L793 466 L793 466 L795 466 L795 466 L797 466 L797 466 L799 466 L799 466 L801 466 L801 466 L803 466 L803 466 L805 466 L805 466 L807 466 L807 466 L809 466 L809 466 L811 466 L811 467 L813 467 L813 468 L815 468 L815 468 L817 468 L817 469 L819 469 L819 470 L821 470 L821 470 L823 470 L823 471 L825 471 L825 471 L827 471 L827 471 L829 471 L829 470 L831 470 L831 470 L833 470 L833 470 L835 470 L835 469 L837 469 L837 469 L839 469 L839 467 L841 467 L841 465 L843 465 L843 463 L845 463 L845 461 L847 461 L847 461 L849 461 L849 460 L851 460 L851 460 L853 460 L853 460 L855 460 L855 459 L857 459 L857 459 L859 459 L859 458 L861 458 L861 458 L863 458 L863 458 L865 458 L865 458 L867 458 L867 458 L869 458 L869 461 L871 461 L871 461 L873 461 L873 461 L875 461 L875 461 L877 461 L877 462 L879 462 L879 462 L881 462 L881 462 L883 462 L883 461 L885 461 L885 461 L887 461 L887 461 L889 461 L889 461 L891 461 L891 461 L893 461 L893 461 L895 461 L895 460 L897 460 L897 458 L899 458 L899 454 L901 454 L901 449 L903 449 L903 444 L905 444 L905 441 L907 441 L907 437 L909 437 L909 433 L911 433 L911 431 L913 431 L913 429 L915 429 L915 428 L917 428 L917 428 L919 428 L919 427 L921 427 L921 425 L923 425 L923 423 L925 423 L925 422 L927 422 L927 421 L929 421 L929 464.0 Z" fill="#c0c0c0" shape-rendering="crispEdges"/>
<path d="M3.5 474V475M4.5 474V475M5.5 474V475M6.5 473V474M7.5 473V474M8.5 473V474M9.5 473V474M10.5 473V474M11.5 473V474M12.5 472V473M13.5 472V473M14.5 472V473M15.5 472V473M16.5 472V473M17.5 472V473M18.5 472V473M19.5 473V474M20.5 473V474M21.5 473V474M22.5 473V474M23.5 473V474M24.5 473V474M25.5 473V474M26.5 473V474M27.5 473V474M28.5 474V475M29.5 474V475M30.5 474V475M31.5 474V475M32.5 474V475M33.5 474V475M34.5 475V476M35.5 475V476M36.5 475V476M37.5 475V476M38.5 475V476M39.5 476V477M40.5 476V477M41.5 476V477M42.5 476V477M43.5 477V478M44.5 477V478M45.5 477V478M46.5 477V478M47.5 478V479M48.5 478V479M49.5 478V479M50.5 478V479M51.5 478V479M52.5 479V480M53.5 479V480M54.5 479V480M55.5 479V480M56.5 480V481M57.5 480V481M58.5 480V481M59.5 480V481M60.5 481V482M61.5 481V482M62.5 481V482M63.5 481V482M64.5 481V482M65.5 481V482M66.5 481V482M67.5 481V482M68.5 482V483M69.5 482V483M70.5 482V483M71.5 482V483M72.5 482V483M73.5 482V483M74.5 482V483M75.5 482V483M76.5 482V483M77.5 482V483M78.5 482V483M79.5 482V483M80.5 482V483M81.5 482V483M82.5 482V483M83.5 482V483M84.5 482V483M85.5 482V483M86.5 482V483M87.5 481V482M88.5 481V482M89.5 480V481M90.5 480V481M91.5 479V480M92.5 479V480M93.5 479V480M94.5 478V479M95.5 478V479M96.5 478V479M97.5 477V478M98.5 477V478M99.5 477V478M100.5 477V478M101.5 477V478M102.5 477V478M103.5 477V478M104.5 477V478M105.5 477V478M106.5 477V478M107.5 477V478M108.5 478V479M109.5 478V479M110.5 478V479M111.5 479V480M112.5 479V480M113.5 479V480M114.5 479V480M115.5 480V481M116.5 480V481M117.5 480V481M118.5 480V481M119.5 480V481M120.5 480V481M121.5 481V482M122.5 481V482M123.5 481V482M124.5 481V482M125.5 481V482M126.5 481V482M127.5 481V482M128.5 481V482M129.5 481V482M130.5 480V481M131.5 480V481M132.5 480V481M133.5 480V481M134.5 480V481M135.5 480V481M136.5 479V480M137.5 479V480M138.5 478V479M139.5 478V479M140.5 477V478M141.5 477V478M142.5 477V478M143.5 477V478M144.5 477V478M145.5 477V478M146.5 477V478M147.5 477V478M148.5 477V478M149.5 477V478M150.5 477V478M151.5 478V479M152.5 478V479M153.5 478V479M154.5 478V479M155.5 479V480M156.5 479V480M157.5 479V480M158.5 480V481M159.5 480V481M160.5 481V482M161.5 481V482M162.5 481V482M163.5 482V483M164.5 482V483M165.5 482V483M166.5 482V483M167.5 482V483M168.5 482V483M169.5 483V484M170.5 483V484M171.5 483V484M172.5 483V484M173.5 483V484M174.5 483V484M175.5 483V484M176.5 482V483M177.5 482V483M178.5 482V483M179.5 482V483M180.5 481V482M181.5 481V482M182.5 481V482M183.5 481V482M184.5 481V482M185.5 481V482M186.5 480V481M187.5 480V481M188.5 480V481M189.5 480V481M190.5 480V481M191.5 480V481M192.5 480V481M193.5 480V481M194.5 480V481M195.5 480V481M196.5 480V481M197.5 479V480M198.5 479V480M199.5 479V480M200.5 479V480M201.5 479V480M202.5 479V480M203.5 479V480M204.5 479V480M205.5 478V479M206.5 478V479M207.5 477V478M208.5 477V478M209.5 477V478M210.5 476V477M211.5 476V477M212.5 475V476M213.5 475V476M214.5 475V476M215.5 475V476M216.5 474V475M217.5 474V475M218.5 474V475M219.5 474V475M220.5 474V475M221.5 473V474M222.5 473V474M223.5 473V474M224.5 473V474M225.5 473V474M226.5 473V474M227.5 474V475M228.5 474V475M229.5 474V475M230.5 474V475M231.5 474V475M232.5 474V475M233.5 475V476M234.5 475V476M235.5 475V476M236.5 475V476M237.5 476V477M238.5 476V477M239.5 476V477M240.5 476V477M241.5 477V478M242.5 477V478M243.5 477V478M244.5 476V477M245.5 476V477M246.5 476V477M247.5 475V476M248.5 475V476M249.5 475V476M250.5 474V475M251.5 474V475M252.5 474V475M253.5 473V474M254.5 473V474M255.5 472V473M256.5 472V473M257.5 472V473M258.5 471V472M259.5 471V472M260.5 470V471M261.5 470V471M262.5 470V471M263.5 470V471M264.5 470V471M265.5 469V470M266.5 469V470M267.5 469V470M268.5 469V470M269.5 469V470M270.5 469V470M271.5 469V470M272.5 469V470M273.5 469V470M274.5 469V470M275.5 469V470M276.5 469V470M277.5 469V470M278.5 469V470M279.5 469V470M280.5 469V470M281.5 470V471M282.5 470V471M283.5 470V471M284.5 470V471M285.5 470V471M286.5 471V472M287.5 471V472M288.5 471V472M289.5 471V472M290.5 471V472M291.5 471V472M292.5 471V472M293.5 471V472M294.5 470V471M295.5 470V471M296.5 470V471M297.5 470V471M298.5 470V471M299.5 470V471M300.5 469V470M301.5 469V470M302.5 468V469M303.5 468V469M304.5 467V468M305.5 466V467M306.5 466V467M307.5 465V466M308.5 465V466M309.5 464V465M310.5 464V465M311.5 463V464M312.5 463V464M313.5 462V463M314.5 462V463M315.5 462V463M316.5 461V462M317.5 461V462M318.5 460V461M319.5 460V461M320.5 460V461M321.5 460V461M322.5 459V460M323.5 459V460M324.5 459V460M325.5 459V460M326.5 459V460M327.5 458V459M328.5 458V459M329.5 458V459M330.5 458V459M331.5 458V459M332.5 458V459M333.5 458V459M334.5 459V460M335.5 459V460M336.5 459V460M337.5 459V460M338.5 459V460M339.5 459V460M340.5 459V460M341.5 458V459M342.5 458V459M343.5 458V459M344.5 457V458M345.5 457V458M346.5 457V458M347.5 457V458M348.5 456V457M349.5 456V457M350.5 456V457M351.5 456V457M352.5 455V456M353.5 455V456M354.5 455V456M355.5 455V456M356.5 455V456M357.5 454V455M358.5 454V455M359.5 454V455M360.5 454V455M361.5 454V455M362.5 454V455M363.5 454V455M364.5 454V455M365.5 454V455M366.5 454V455M367.5 454V455M368.5 454V455M369.5 455V456M370.5 455V456M371.5 456V457M372.5 456V457M373.5 456V457M374.5 457V458M375.5 457V458M376.5 458V459M377.5 458V459M378.5 459V460M379.5 460V461M380.5 460V461M381.5 461V462M382.5 462V463M383.5 462V463M384.5 463V464M385.5 464V465M386.5 464V465M387.5 465V466M388.5 465V466M389.5 466V467M390.5 466V467M391.5 467V468M392.5 467V468M393.5 468V469M394.5 468V469M395.5 468V469M396.5 469V470M397.5 469V470M398.5 469V470M399.5 470V471M400.5 470V471M401.5 470V471M402.5 471V472M403.5 471V472M404.5 471V472M405.5 472V473M406.5 472V473M407.5 472V473M408.5 472V473M409.5 472V473M410.5 472V473M411.5 472V473M412.5 472V473M413.5 473V474M414.5 473V474M415.5 473V474M416.5 473V474M417.5 473V474M418.5 473V474M419.5 473V474M420.5 473V474M421.5 473V474M422.5 473V474M423.5 473V474M424.5 474V475M425.5 474V475M426.5 474V475M427.5 474V475M428.5 474V475M429.5 474V475M430.5 474V475M431.5 474V475M432.5 475V476M433.5 475V476M434.5 475V476M435.5 475V476M436.5 475V476M437.5 476V477M438.5 476V477M439.5 476V477M440.5 476V477M441.5 476V477M442.5 476V477M443.5 476V477M444.5 476V477M445.5 476V477M446.5 476V477M447.5 476V477M448.5 476V477M449.5 476V477M450.5 476V477M451.5 475V476M452.5 475V476M453.5 474V475M454.5 474V475M455.5 474V475M456.5 473V474M457.5 473V474M458.5 472V473M459.5 472V473M460.5 471V472M461.5 471V472M462.5 470V471M463.5 469V470M464.5 468V469M465.5 468V469M466.5 467V468M467.5 466V467M468.5 465V466M469.5 465V466M470.5 464V465M471.5 463V464M472.5 462V463M473.5 462V463M474.5 461V462M475.5 461V462M476.5 460V461M477.5 460V461M478.5 459V460M479.5 459V460M480.5 458V459M481.5 458V459M482.5 458V459M483.5 458V459M484.5 458V459M485.5 458V459M486.5 457V458M487.5 457V458M488.5 457V458M489.5 457V458M490.5 457V458M491.5 457V458M492.5 457V458M493.5 457V458M494.5 457V458M495.5 457V458M496.5 457V458M497.5 457V458M498.5 457V458M499.5 457V458M500.5 457V458M501.5 457V458M502.5 457V458M503.5 457V458M504.5 458V459M505.5 458V459M506.5 458V459M507.5 458V459M508.5 458V459M509.5 458V459M510.5 459V460M511.5 459V460M512.5 459V460M513.5 459V460M514.5 459V460M515.5 459V460M516.5 459V460M517.5 459V460M518.5 459V460M519.5 459V460M520.5 460V461M521.5 460V461M522.5 460V461M523.5 460V461M524.5 460V461M525.5 460V461M526.5 460V461M527.5 460V461M528.5 460V461M529.5 461V462M530.5 461V462M531.5 461V462M532.5 461V462M533.5 461V462M534.5 461V462M535.5 462V463M536.5 462V463M537.5 462V463M538.5 462V463M539.5 462V463M540.5 462V463M541.5 462V463M542.5 462V463M543.5 462V463M544.5 462V463M545.5 462V463M546.5 462V463M547.5 462V463M548.5 462V463M549.5 462V463M550.5 462V463M551.5 462V463M552.5 462V463M553.5 462V463M554.5 462V463M555.5 462V463M556.5 462V463M557.5 462V463M558.5 462V463M559.5 462V463M560.5 462V463M561.5 462V463M562.5 462V463M563.5 462V463M564.5 462V463M565.5 462V463M566.5 462V463M567.5 462V463M568.5 463V464M569.5 463V464M570.5 464V465M571.5 464V465M572.5 465V466M573.5 465V466M574.5 465V466M575.5 465V466M576.5 466V467M577.5 466V467M578.5 466V467M579.5 466V467M580.5 466V467M581.5 466V467M582.5 466V467M583.5 466V467M584.5 467V468M585.5 467V468M586.5 467V468M587.5 467V468M588.5 467V468M589.5 467V468M590.5 467V468M591.5 467V468M592.5 466V467M593.5 466V467M594.5 466V467M595.5 466V467M596.5 466V467M597.5 465V466M598.5 465V466M599.5 465V466M600.5 465V466M601.5 465V466M602.5 465V466M603.5 464V465M604.5 464V465M605.5 464V465M606.5 464V465M607.5 464V465M608.5 464V465M609.5 464V465M610.5 464V465M611.5 464V465M612.5 464V465M613.5 464V465M614.5 464V465M615.5 464V465M616.5 464V465M617.5 464V465M618.5 464V465M619.5 464V465M620.5 464V465M621.5 464V465M622.5 464V465M623.5 464V465M624.5 465V466M625.5 465V466M626.5 465V466M627.5 465V466M628.5 465V466M629.5 465V466M630.5 465V466M631.5 465V466M632.5 466V467M633.5 466V467M634.5 466V467M635.5 466V467M636.5 466V467M637.5 467V468M638.5 467V468M639.5 467V468M640.5 468V469M641.5 468V469M642.5 469V470M643.5 469V470M644.5 470V471M645.5 470V471M646.5 471V472M647.5 471V472M648.5 472V473M649.5 472V473M650.5 472V473M651.5 472V473M652.5 472V473M653.5 472V473M654.5 472V473M655.5 472V473M656.5 472V473M657.5 472V473M658.5 472V473M659.5 472V473M660.5 472V473M661.5 472V473M662.5 472V473M663.5 471V472M664.5 471V472M665.5 471V472M666.5 471V472M667.5 471V472M668.5 471V472M669.5 470V471M670.5 470V471M671.5 470V471M672.5 470V471M673.5 470V471M674.5 470V471M675.5 469V470M676.5 469V470M677.5 469V470M678.5 469V470M679.5 469V470M680.5 469V470M681.5 468V469M682.5 468V469M683.5 468V469M684.5 468V469M685.5 468V469M686.5 468V469M687.5 468V469M688.5 468V469M689.5 468V469M690.5 467V468M691.5 467V468M692.5 467V468M693.5 467V468M694.5 467V468M695.5 467V468M696.5 467V468M697.5 467V468M698.5 467V468M699.5 467V468M700.5 467V468M701.5 467V468M702.5 467V468M703.5 467V468M704.5 467V468M705.5 467V468M706.5 467V468M707.5 467V468M708.5 467V468M709.5 467V468M710.5 467V468M711.5 467V468M712.5 467V468M713.5 467V468M714.5 467V468M715.5 467V468M716.5 467V468M717.5 467V468M718.5 467V468M719.5 467V468M720.5 467V468M721.5 467V468M722.5 467V468M723.5 467V468M724.5 467V468M725.5 466V467M726.5 466V467M727.5 466V467M728.5 466V467M729.5 466V467M730.5 466V467M731.5 465V466M732.5 465V466M733.5 465V466M734.5 465V466M735.5 465V466M736.5 465V466M737.5 465V466M738.5 465V466M739.5 465V466M740.5 465V466M741.5 465V466M742.5 465V466M743.5 465V466M744.5 465V466M745.5 465V466M746.5 465V466M747.5 465V466M748.5 465V466M749.5 465V466M750.5 465V466M751.5 465V466M752.5 465V466M753.5 465V466M754.5 465V466M755.5 465V466M756.5 465V466M757.5 465V466M758.5 465V466M759.5 465V466M760.5 465V466M761.5 465V466M762.5 465V466M763.5 465V466M764.5 465V466M765.5 466V467M766.5 466V467M767.5 466V467M768.5 466V467M769.5 466V467M770.5 466V467M771.5 466V467M772.5 466V467M773.5 466V467M774.5 467V468M775.5 467V468M776.5 467V468M777.5 467V468M778.5 467V468M779.5 468V469M780.5 468V469M781.5 468V469M782.5 468V469M783.5 468V469M784.5 468V469M785.5 468V469M786.5 467V468M787.5 467V468M788.5 467V468M789.5 467V468M790.5 467V468M791.5 467V468M792.5 467V468M793.5 467V468M794.5 466V467M795.5 466V467M796.5 466V467M797.5 466V467M798.5 466V467M799.5 465V466M800.5 465V466M801.5 465V466M802.5 465V466M803.5 465V466M804.5 465V466M805.5 465V466M806.5 465V466M807.5 465V466M808.5 465V466M809.5 465V466M810.5 465V466M811.5 465V466M812.5 465V466M813.5 466V467M814.5 466V467M815.5 466V467M816.5 466V467M817.5 467V468M818.5 467V468M819.5 467V468M820.5 468V469M821.5 468V469M822.5 468V469M823.5 468V469M824.5 469V470M825.5 469V470M826.5 469V470M827.5 469V470M828.5 469V470M829.5 469V470M830.5 469V470M831.5 469V470M832.5 468V469M833.5 468V469M834.5 468V469M835.5 468V469M836.5 468V469M837.5 468V469M838.5 468V469M839.5 468V469M840.5 467V468M841.5 467V468M842.5 466V467M843.5 466V467M844.5 466V467M845.5 465V466M846.5 465V466M847.5 465V466M848.5 464V465M849.5 464V465M850.5 463V464M851.5 463V464M852.5 462V463M853.5 462V463M854.5 462V463M855.5 461V462M856.5 461V462M857.5 460V461M858.5 460V461M859.5 460V461M860.5 459V460M861.5 459V460M862.5 459V460M863.5 459V460M864.5 459V460M865.5 459V460M866.5 459V460M867.5 459V460M868.5 459V460M869.5 459V460M870.5 459V460M871.5 459V460M872.5 459V460M873.5 459V460M874.5 459V460M875.5 459V460M876.5 459V460M877.5 459V460M878.5 459V460M879.5 460V461M880.5 460V461M881.5 460V461M882.5 460V461M883.5 461V462M884.5 461V462M885.5 461V462M886.5 461V462M887.5 461V462M888.5 461V462M889.5 461V462M890.5 461V462M891.5 461V462M892.5 461V462M893.5 461V462M894.5 461V462M895.5 461V462M896.5 460V461M897.5 460V461M898.5 460V461M899.5 460V461M900.5 459V460M901.5 459V460M902.5 458V459M903.5 457V458M904.5 457V458M905.5 456V457M906.5 455V456M907.5 453V455M908.5 452V453M909.5 450V452M910.5 448V450M911.5 447V448M912.5 445V447M913.5 443V445M914.5 441V443M915.5 439V441M916.5 438V439M917.5 436V438M918.5 435V436M919.5 433V435M920.5 432V433M921.5 431V432M922.5 430V431M923.5 430V431M924.5 429V430M925.5 428V429M926.5 427V428M927.5 426V427M928.5 425V426" stroke="#ff0000" stroke-width="1" fill="none" shape-rendering="crispEdges"/>
<line x1="5" y1="513.5" x2="1166" y2="513.5" stroke="#c0c0c0" stroke-width="1" stroke-dasharray="3 3" shape-rendering="crispEdges"/>
<line x1="5" y1="542.5" x2="1166" y2="542.5" stroke="#c0c0c0" stroke-width="1" stroke-dasharray="3 3" shape-rendering="crispEdges"/>
<path d="M3.5 533V534M4.5 533V534M5.5 533V534M6.5 534V535M7.5 534V535M8.5 534V535M9.5 535V537M10.5 537V538M11.5 538V540M12.5 540V542M13.5 542V543M14.5 540V542M15.5 539V540M16.5 537V539M17.5 535V537M18.5 534V535M19.5 535V536M20.5 536V537M21.5 536V537M22.5 537V538M23.5 538V539M24.5 537V538M25.5 537V538M26.5 536V537M27.5 536V537M28.5 537V538M29.5 538V539M30.5 539V540M31.5 540V541M32.5 541V542M33.5 540V541M34.5 539V540M35.5 537V539M36.5 536V537M37.5 535V536M38.5 536V537M39.5 537V538M40.5 538V539M41.5 539V540M42.5 540V541M43.5 540V541M44.5 540V541M45.5 541V542M46.5 541V542M47.5 541V542M48.5 542V543M49.5 543V544M50.5 543V544M51.5 544V545M52.5 545V546M53.5 544V545M54.5 544V545M55.5 543V544M56.5 542V543M57.5 542V543M58.5 541V542M59.5 540V541M60.5 538V540M61.5 537V538M62.5 536V537M63.5 537V538M64.5 537V538M65.5 538V539M66.5 538V539M67.5 539V540M68.5 540V541M69.5 541V542M70.5 542V544M71.5 544V545M72.5 545V546M73.5 546V547M74.5 546V547M75.5 547V548M76.5 545V547M77.5 543V545M78.5 541V543M79.5 539V541M80.5 537V539M81.5 536V537M82.5 534V536M83.5 532V534M84.5 531V532M85.5 530V531M86.5 530V531M87.5 529V530M88.5 529V530M89.5 530V531M90.5 531V532M91.5 531V532M92.5 532V533M93.5 533V534M94.5 534V536M95.5 536V537M96.5 537V539M97.5 539V541M98.5 541V542M99.5 540V541M100.5 539V540M101.5 538V539M102.5 539V540M103.5 540V541M104.5 540V541M105.5 541V542M106.5 541V543M107.5 539V541M108.5 537V539M109.5 535V537M110.5 533V535M111.5 534V535M112.5 534V535M113.5 535V536M114.5 535V536M115.5 536V537M116.5 537V538M117.5 538V539M118.5 538V539M119.5 539V540M120.5 540V541M121.5 540V541M122.5 541V542M123.5 541V542M124.5 541V542M125.5 539V541M126.5 538V539M127.5 536V538M128.5 534V536M129.5 533V534M130.5 532V533M131.5 530V532M132.5 529V530M133.5 528V529M134.5 529V530M135.5 529V530M136.5 530V531M137.5 530V531M138.5 531V532M139.5 532V534M140.5 534V535M141.5 535V537M142.5 537V539M143.5 539V540M144.5 540V541M145.5 541V542M146.5 542V543M147.5 543V544M148.5 543V545M149.5 541V543M150.5 539V541M151.5 537V539M152.5 537V538M153.5 538V539M154.5 538V539M155.5 539V540M156.5 539V540M157.5 540V541M158.5 541V542M159.5 542V543M160.5 543V544M161.5 544V545M162.5 543V544M163.5 542V543M164.5 540V542M165.5 539V540M166.5 538V539M167.5 538V539M168.5 537V538M169.5 537V538M170.5 537V538M171.5 537V538M172.5 536V537M173.5 536V537M174.5 536V537M175.5 536V537M176.5 535V536M177.5 535V536M178.5 535V536M179.5 534V535M180.5 534V535M181.5 535V536M182.5 536V537M183.5 537V538M184.5 538V539M185.5 539V540M186.5 540V541M187.5 541V542M188.5 542V543M189.5 543V544M190.5 542V543M191.5 541V542M192.5 540V541M193.5 539V540M194.5 538V539M195.5 537V538M196.5 536V537M197.5 536V537M198.5 535V536M199.5 534V535M200.5 535V536M201.5 536V538M202.5 538V539M203.5 539V540M204.5 538V539M205.5 537V538M206.5 536V537M207.5 535V536M208.5 534V535M209.5 533V534M210.5 532V533M211.5 531V532M212.5 532V533M213.5 533V535M214.5 535V536M215.5 536V537M216.5 535V536M217.5 533V535M218.5 532V533M219.5 533V535M220.5 535V536M221.5 536V537M222.5 537V539M223.5 539V540M224.5 540V542M225.5 542V543M226.5 543V544M227.5 544V546M228.5 546V547M229.5 544V546M230.5 542V544M231.5 540V542M232.5 538V540M233.5 536V538M234.5 537V538M235.5 537V538M236.5 538V539M237.5 538V539M238.5 539V540M239.5 538V539M240.5 536V538M241.5 535V536M242.5 534V535M243.5 533V534M244.5 531V533M245.5 530V531M246.5 529V530M247.5 530V531M248.5 531V532M249.5 531V532M250.5 532V533M251.5 530V532M252.5 529V530M253.5 527V529M254.5 526V527M255.5 527V528M256.5 528V530M257.5 530V531M258.5 528V530M259.5 526V528M260.5 524V526M261.5 525V527M262.5 527V529M263.5 529V531M264.5 531V533M265.5 531V532M266.5 530V531M267.5 530V531M268.5 529V530M269.5 529V530M270.5 529V530M271.5 529V530M272.5 529V530M273.5 529V530M274.5 530V531M275.5 531V532M276.5 532V534M277.5 534V535M278.5 535V536M279.5 536V537M280.5 535V536M281.5 535V536M282.5 534V535M283.5 534V535M284.5 535V536M285.5 536V537M286.5 537V538M287.5 537V539M288.5 535V537M289.5 533V535M290.5 531V533M291.5 529V531M292.5 527V529M293.5 526V527M294.5 527V528M295.5 527V528M296.5 528V529M297.5 528V529M298.5 529V530M299.5 528V530M300.5 525V528M301.5 522V525M302.5 520V522M303.5 521V523M304.5 523V525M305.5 525V527M306.5 527V528M307.5 526V527M308.5 525V526M309.5 524V525M310.5 524V525M311.5 523V524M312.5 522V523M313.5 520V522M314.5 518V520M315.5 516V518M316.5 514V516M317.5 516V518M318.5 518V520M319.5 520V522M320.5 522V524M321.5 524V526M322.5 525V526M323.5 526V527M324.5 526V527M325.5 525V526M326.5 525V526M327.5 524V525M328.5 524V525M329.5 525V526M330.5 525V526M331.5 526V527M332.5 524V526M333.5 523V524M334.5 523V524M335.5 523V524M336.5 523V524M337.5 523V524M338.5 522V523M339.5 520V522M340.5 519V520M341.5 519V520M342.5 518V519M343.5 518V519M344.5 517V518M345.5 515V517M346.5 514V515M347.5 513V514M348.5 514V516M349.5 516V517M350.5 516V517M351.5 515V516M352.5 515V517M353.5 517V520M354.5 520V523M355.5 523V525M356.5 523V524M357.5 522V523M358.5 522V523M359.5 521V522M360.5 520V521M361.5 521V522M362.5 521V522M363.5 522V523M364.5 522V523M365.5 523V524M366.5 524V525M367.5 525V526M368.5 526V527M369.5 526V527M370.5 527V528M371.5 528V529M372.5 529V530M373.5 530V531M374.5 531V533M375.5 533V534M376.5 534V535M377.5 535V536M378.5 535V536M379.5 536V537M380.5 536V537M381.5 536V537M382.5 535V536M383.5 535V536M384.5 535V536M385.5 536V537M386.5 537V538M387.5 537V538M388.5 538V539M389.5 539V540M390.5 538V539M391.5 537V538M392.5 537V538M393.5 536V537M394.5 535V536M395.5 533V535M396.5 532V533M397.5 531V533M398.5 533V536M399.5 536V540M400.5 540V543M401.5 543V545M402.5 544V545M403.5 543V544M404.5 542V544M405.5 540V542M406.5 537V540M407.5 535V537M408.5 533V535M409.5 534V535M410.5 534V535M411.5 535V536M412.5 536V537M413.5 537V538M414.5 537V538M415.5 538V539M416.5 537V538M417.5 536V537M418.5 535V536M419.5 534V535M420.5 535V536M421.5 535V536M422.5 536V537M423.5 536V537M424.5 537V538M425.5 538V539M426.5 539V540M427.5 540V541M428.5 541V542M429.5 542V543M430.5 543V544M431.5 544V545M432.5 545V546M433.5 543V545M434.5 541V543M435.5 539V541M436.5 538V539M437.5 537V538M438.5 536V537M439.5 535V536M440.5 534V535M441.5 535V536M442.5 536V537M443.5 535V536M444.5 533V535M445.5 532V533M446.5 531V532M447.5 532V533M448.5 533V535M449.5 535V536M450.5 533V535M451.5 531V533M452.5 529V531M453.5 529V530M454.5 528V529M455.5 528V529M456.5 527V529M457.5 525V527M458.5 522V525M459.5 520V522M460.5 519V520M461.5 517V519M462.5 516V517M463.5 516V517M464.5 515V516M465.5 515V516M466.5 514V515M467.5 514V515M468.5 515V516M469.5 516V518M470.5 518V519M471.5 519V520M472.5 519V520M473.5 520V521M474.5 520V521M475.5 519V520M476.5 519V520M477.5 518V519M478.5 518V519M479.5 517V518M480.5 517V518M481.5 517V518M482.5 518V519M483.5 519V520M484.5 520V521M485.5 521V522M486.5 519V521M487.5 517V519M488.5 516V517M489.5 516V517M490.5 515V516M491.5 516V518M492.5 518V520M493.5 519V520M494.5 518V519M495.5 518V520M496.5 520V522M497.5 522V525M498.5 525V527M499.5 524V526M500.5 523V524M501.5 521V523M502.5 519V521M503.5 518V519M504.5 519V521M505.5 521V523M506.5 523V525M507.5 525V527M508.5 527V528M509.5 527V528M510.5 526V527M511.5 526V527M512.5 525V526M513.5 524V526M514.5 520V524M515.5 516V520M516.5 514V516M517.5 516V520M518.5 520V524M519.5 524V528M520.5 528V530M521.5 529V530M522.5 529V530M523.5 529V530M524.5 529V530M525.5 529V530M526.5 529V530M527.5 529V530M528.5 529V530M529.5 529V530M530.5 529V530M531.5 527V529M532.5 525V527M533.5 523V525M534.5 523V524M535.5 523V524M536.5 523V524M537.5 524V525M538.5 525V526M539.5 525V526M540.5 526V527M541.5 526V527M542.5 526V527M543.5 526V527M544.5 525V526M545.5 523V525M546.5 522V523M547.5 521V522M548.5 521V522M549.5 521V522M550.5 521V522M551.5 521V522M552.5 522V524M553.5 524V526M554.5 526V528M555.5 528V530M556.5 530V531M557.5 529V530M558.5 528V529M559.5 527V528M560.5 528V529M561.5 529V531M562.5 531V532M563.5 532V533M564.5 533V534M565.5 533V534M566.5 534V535M567.5 534V535M568.5 534V535M569.5 534V535M570.5 535V536M571.5 536V537M572.5 537V538M573.5 535V537M574.5 534V535M575.5 532V534M576.5 530V532M577.5 529V530M578.5 530V531M579.5 530V531M580.5 531V532M581.5 532V533M582.5 533V534M583.5 534V535M584.5 535V536M585.5 535V536M586.5 536V537M587.5 537V538M588.5 536V539M589.5 532V536M590.5 528V532M591.5 525V528M592.5 524V525M593.5 522V524M594.5 521V522M595.5 520V521M596.5 521V523M597.5 523V524M598.5 524V526M599.5 526V527M600.5 526V527M601.5 526V527M602.5 527V528M603.5 527V528M604.5 527V528M605.5 526V527M606.5 525V526M607.5 524V525M608.5 523V525M609.5 525V528M610.5 528V531M611.5 531V534M612.5 534V536M613.5 534V535M614.5 532V534M615.5 531V532M616.5 530V531M617.5 530V531M618.5 529V530M619.5 529V530M620.5 529V530M621.5 530V531M622.5 530V531M623.5 529V530M624.5 528V529M625.5 527V528M626.5 528V530M627.5 530V532M628.5 532V533M629.5 532V533M630.5 533V534M631.5 533V534M632.5 533V535M633.5 535V537M634.5 537V540M635.5 540V542M636.5 542V544M637.5 541V543M638.5 539V541M639.5 538V539M640.5 538V539M641.5 538V539M642.5 539V540M643.5 539V540M644.5 539V540M645.5 539V540M646.5 538V539M647.5 537V538M648.5 536V537M649.5 534V536M650.5 533V534M651.5 532V533M652.5 531V532M653.5 532V533M654.5 532V533M655.5 533V534M656.5 533V534M657.5 532V533M658.5 532V533M659.5 532V533M660.5 532V533M661.5 533V534M662.5 533V534M663.5 534V535M664.5 534V535M665.5 533V534M666.5 531V533M667.5 530V531M668.5 529V530M669.5 530V531M670.5 531V532M671.5 532V534M672.5 534V535M673.5 535V536M674.5 534V535M675.5 534V535M676.5 533V534M677.5 533V534M678.5 534V535M679.5 534V535M680.5 533V534M681.5 532V533M682.5 531V532M683.5 530V531M684.5 530V531M685.5 529V530M686.5 529V530M687.5 529V530M688.5 528V529M689.5 528V529M690.5 528V529M691.5 527V528M692.5 527V529M693.5 529V531M694.5 531V533M695.5 533V535M696.5 535V537M697.5 535V536M698.5 535V536M699.5 534V535M700.5 534V535M701.5 534V535M702.5 533V534M703.5 533V534M704.5 533V534M705.5 534V536M706.5 536V538M707.5 538V540M708.5 540V542M709.5 536V540M710.5 532V536M711.5 529V532M712.5 529V530M713.5 530V531M714.5 530V531M715.5 530V531M716.5 530V531M717.5 529V530M718.5 529V530M719.5 529V530M720.5 528V529M721.5 527V528M722.5 527V528M723.5 526V527M724.5 526V527M725.5 527V528M726.5 527V528M727.5 528V529M728.5 528V529M729.5 528V529M730.5 529V530M731.5 529V530M732.5 529V530M733.5 529V530M734.5 530V531M735.5 530V531M736.5 531V532M737.5 532V533M738.5 532V533M739.5 533V534M740.5 531V533M741.5 529V531M742.5 531V534M743.5 532V533M744.5 530V532M745.5 529V530M746.5 529V530M747.5 528V530M748.5 526V528M749.5 523V526M750.5 521V523M751.5 522V523M752.5 523V525M753.5 525V526M754.5 526V527M755.5 527V529M756.5 529V531M757.5 531V533M758.5 533V534M759.5 534V535M760.5 534V535M761.5 535V536M762.5 536V537M763.5 537V538M764.5 537V539M765.5 535V537M766.5 533V535M767.5 534V535M768.5 535V536M769.5 535V536M770.5 536V537M771.5 537V538M772.5 538V540M773.5 540V541M774.5 541V542M775.5 541V542M776.5 541V542M777.5 539V542M778.5 533V539M779.5 527V533M780.5 524V527M781.5 524V525M782.5 524V525M783.5 523V524M784.5 523V524M785.5 523V524M786.5 524V526M787.5 526V527M788.5 527V529M789.5 529V531M790.5 531V532M791.5 529V531M792.5 527V529M793.5 526V527M794.5 526V527M795.5 525V526M796.5 525V526M797.5 525V526M798.5 525V526M799.5 524V525M800.5 524V525M801.5 524V525M802.5 525V527M803.5 527V529M804.5 529V531M805.5 531V533M806.5 533V535M807.5 535V537M808.5 537V538M809.5 537V538M810.5 538V539M811.5 538V539M812.5 538V539M813.5 538V539M814.5 538V539M815.5 538V539M816.5 539V540M817.5 540V541M818.5 541V542M819.5 539V541M820.5 537V539M821.5 538V539M822.5 539V540M823.5 538V539M824.5 537V538M825.5 537V538M826.5 536V537M827.5 535V536M828.5 534V535M829.5 533V534M830.5 533V534M831.5 532V533M832.5 531V532M833.5 532V533M834.5 532V533M835.5 533V534M836.5 533V534M837.5 533V534M838.5 533V534M839.5 530V534M840.5 524V530M841.5 518V524M842.5 514V518M843.5 512V514M844.5 511V513M845.5 513V516M846.5 516V518M847.5 518V521M848.5 521V523M849.5 522V523M850.5 521V522M851.5 521V522M852.5 520V521M853.5 520V521M854.5 519V520M855.5 518V519M856.5 518V519M857.5 517V518M858.5 516V517M859.5 517V518M860.5 518V519M861.5 518V519M862.5 518V519M863.5 518V519M864.5 519V521M865.5 521V523M866.5 523V525M867.5 525V527M868.5 527V529M869.5 529V530M870.5 528V529M871.5 526V528M872.5 525V526M873.5 524V525M874.5 524V525M875.5 523V524M876.5 523V525M877.5 525V527M878.5 527V529M879.5 527V528M880.5 526V527M881.5 526V527M882.5 524V526M883.5 522V524M884.5 520V522M885.5 521V523M886.5 523V525M887.5 523V524M888.5 522V523M889.5 521V522M890.5 522V523M891.5 523V524M892.5 524V525M893.5 525V526M894.5 523V526M895.5 517V523M896.5 513V517M897.5 511V513M898.5 509V511M899.5 507V509M900.5 506V507M901.5 504V506M902.5 503V504M903.5 502V503M904.5 502V503M905.5 501V502M906.5 501V502M907.5 501V502M908.5 500V501M909.5 500V501M910.5 499V500M911.5 500V502M912.5 502V503M913.5 502V503M914.5 502V504M915.5 504V506M916.5 506V509M917.5 509V511M918.5 511V513M919.5 510V512M920.5 508V510M921.5 507V508M922.5 506V507M923.5 506V507M924.5 505V506M925.5 506V507M926.5 506V507M927.5 507V508" stroke="#1e90ff" stroke-width="1" fill="none" shape-rendering="crispEdges"/>
<path d="M3.5 23 V415 M3 23.5 H1167 M3 414.5 H1167" stroke="#000" fill="none" shape-rendering="crispEdges"/>
<path d="M3.5 416 V489 M3 416.5 H1167 M3 488.5 H1167" stroke="#000" fill="none" shape-rendering="crispEdges"/>
<path d="M3.5 490 V565 M3 490.5 H1167 M3 564.5 H1167" stroke="#000" fill="none" shape-rendering="crispEdges"/>
<path d="M1166.5 23 V565" stroke="#000" shape-rendering="crispEdges"/>
<path d="M1166 48.5 h3 M1166 81.5 h3 M1166 114.5 h3 M1166 147.5 h3 M1166 180.5 h3 M1166 213.5 h3 M1166 246.5 h3 M1166 279.5 h3 M1166 312.5 h3 M1166 345.5 h3 M1166 378.5 h3 M1166 411.5 h3 M1166 464.5 h3 M1166 418.5 h2 M1166 487.5 h2 M1166 492.5 h2 M1166 563.5 h2" stroke="#000" shape-rendering="crispEdges"/>
<path d="M4.5 565 v4 M68.5 565 v4 M132.5 565 v4 M196.5 565 v4 M260.5 565 v4 M324.5 565 v4 M388.5 565 v4 M452.5 565 v4 M516.5 565 v4 M580.5 565 v4 M644.5 565 v4 M708.5 565 v4 M772.5 565 v4 M836.5 565 v4 M900.5 565 v4" stroke="#000" shape-rendering="crispEdges"/>
<path d="M7 34 L10.5 29.5 L14 34 Z" fill="#000"/>
</svg>
<div class="ttl" style="left:19.1px;top:25.6px">USDCNH-,Daily</div>
<div class="ttl" style="left:93.6px;top:25.6px;transform:rotate(0.03deg) scaleX(.9);word-spacing:0.3px">6.74624 6.75149 6.74624 6.75034</div>
<div class="ttl" style="left:8.3px;top:419.6px">MACD(12,26,9) 0.090374 0.079349</div>
<div class="ttl" style="left:8.3px;top:493.5px">RSI(14) 78.9526</div>
<div class="ax" style="top:43px">7.00470</div>
<div class="ax" style="top:76px">6.94035</div>
<div class="ax" style="top:109px">6.87600</div>
<div class="ax" style="top:142px">6.81165</div>
<div class="ax" style="top:175px">6.74730</div>
<div class="ax" style="top:208px">6.68100</div>
<div class="ax" style="top:241px">6.61665</div>
<div class="ax" style="top:274px">6.55230</div>
<div class="ax" style="top:307px">6.48600</div>
<div class="ax" style="top:340px">6.42165</div>
<div class="ax" style="top:373px">6.35730</div>
<div class="ax" style="top:406px">6.29295</div>
<div class="ax" style="top:419px;left:1169.8px">0.097045</div>
<div class="ax" style="top:459px;left:1169.8px">0.00</div>
<div class="ax" style="top:477px;left:1169.8px">-0.04972</div>
<div class="ax" style="top:492px;left:1169.8px">100</div>
<div class="ax" style="top:508px;left:1169.8px">70</div>
<div class="ax" style="top:537px;left:1169.8px">30</div>
<div class="ax" style="top:552px;left:1169.8px">0</div>
<div class="pl" style="top:173px;background:#000"><span>6.75034</span></div>
<div class="pl" style="top:102px;background:#ff0000"><span>6.88702</span></div>
<div class="pl" style="top:167px;background:#ff0000"><span>6.75998</span></div>
<div class="pl" style="top:227px;background:#00ff00"><span>6.64169</span></div>
<div class="pl" style="top:280px;background:#0000ff"><span>6.53845</span></div>
<div class="pl" style="top:337px;background:#0000ff"><span>6.42660</span></div>
<div class="pl" style="top:391px;background:#0000ff"><span>6.32018</span></div>
<div class="dt" style="left:3px">29 Jul 2020</div>
<div class="dt" style="left:67px">11 Sep 2020</div>
<div class="dt" style="left:131px">27 Oct 2020</div>
<div class="dt" style="left:195px">10 Dec 2020</div>
<div class="dt" style="left:259px">27 Jan 2021</div>
<div class="dt" style="left:323px">12 Mar 2021</div>
<div class="dt" style="left:387px">28 Apr 2021</div>
<div class="dt" style="left:451px">11 Jun 2021</div>
<div class="dt" style="left:515px">27 Jul 2021</div>
<div class="dt" style="left:579px">9 Sep 2021</div>
<div class="dt" style="left:643px">25 Oct 2021</div>
<div class="dt" style="left:707px">8 Dec 2021</div>
<div class="dt" style="left:771px">21 Jan 2022</div>
<div class="dt" style="left:835px">8 Mar 2022</div>
<div class="dt" style="left:899px">21 Apr 2022</div>
<!-- quick trade -->
<div class="qb" id="sellU"></div><div class="qb" id="sellL"></div>
<div class="qb" id="buyU"></div><div class="qb" id="buyL"></div>
<i style="position:absolute;left:59px;top:67px;width:57px;height:1px;background:#0a0ab0"></i><i style="position:absolute;left:118px;top:67px;width:57px;height:1px;background:#0a0ab0"></i><i class="ul" style="left:11px;width:44px"></i><i class="ul" style="left:178px;width:44px"></i>
<div class="bt" style="left:19.3px;transform:scaleX(0.87)">SELL</div>
<div class="bt" style="left:187px;transform:scaleX(0.955)">BUY</div>
<div id="spin"><div class="sb" style="left:0px"></div><div class="sb" style="left:88.5px;border-color:#e4e4e4 #d0d0d0 #c0c0c0 #b4b4b4"></div></div>
<div id="vol">2.00</div>
<div class="sm" style="left:26.6px">6.75</div><div class="sm" style="left:136.6px">6.75</div>
<div class="sup" style="left:94px">4</div><div class="sup" style="left:205.3px">5</div>
<svg style="position:absolute;left:0;top:40px" width="240" height="62" viewBox="0 40 240 62">
 <text x="54.1" y="95.2" font-family="Liberation Sans, sans-serif" font-size="34.6" fill="#fff" stroke="url(#pg)" stroke-width="0.3" textLength="35.3" lengthAdjust="spacingAndGlyphs">03</text>
 <text x="165" y="95.2" font-family="Liberation Sans, sans-serif" font-size="34.6" fill="#fff" stroke="url(#pg)" stroke-width="0.3" textLength="35.6" lengthAdjust="spacingAndGlyphs">28</text>
 <path d="M69 52.4 h4.8 l-2.4 2.8z" fill="#5466c0"/><path d="M158.1 55.2 h4.8 l-2.4 -2.8z" fill="#5466c0"/>
</svg>
<!-- tabs -->
<div id="tabline0"></div>
<div id="tabbar">
<span class="tb" style="left:15.5px;transform:rotate(0.03deg) scaleX(0.946)">USDX,Weekly</span>
<span class="tb" style="left:115.5px;transform:rotate(0.03deg) scaleX(0.922)">EURUSD-,Daily</span>
<span class="tb" style="left:223.0px;transform:rotate(0.03deg) scaleX(0.938)">AUDUSD-,Daily</span>
<span class="tb" style="left:333.0px;transform:rotate(0.03deg) scaleX(0.919)">USDCHF-,Daily</span>
<span class="tb" style="left:440.0px;transform:rotate(0.03deg) scaleX(0.928)">USDCAD-,Daily</span>
<span class="tb" style="left:659.5px;transform:rotate(0.03deg) scaleX(0.946)">XAUUSD-,Daily</span>
<span class="tb" style="left:767.9px;transform:rotate(0.03deg) scaleX(0.967)">UKOil-,Daily</span>
<span class="tb" style="left:860.0px;transform:rotate(0.03deg) scaleX(0.957)">DJ30-,Weekly</span>
<span class="tb" style="left:959.5px;transform:rotate(0.03deg) scaleX(0.956)">UK100-,H1</span>
<span class="tb" style="left:1044.5px;transform:rotate(0.03deg) scaleX(0.959)">USOil-,Daily</span>
<span class="tb" style="left:1135.0px;transform:rotate(0.03deg) scaleX(0.985)">HK50-,Daily</span>
<i class="sp" style="left:105px"></i>
<i class="sp" style="left:213px"></i>
<i class="sp" style="left:321px"></i>
<i class="sp" style="left:429px"></i>
<i class="sp" style="left:757px"></i>
<i class="sp" style="left:849px"></i>
<i class="sp" style="left:949px"></i>
<i class="sp" style="left:1033px"></i>
<i class="sp" style="left:1125px"></i>
</div>
<div id="act"><span>USDCNH-,Daily</span></div>
<div id="tabL"></div>
<div id="arr"><svg width="29" height="19" viewBox="0 0 29 19"><path d="M8.2 4.8 v6.6 l-3.6 -3.3z" fill="#9a9a9a"/><path d="M23.4 4.6 v7 l4 -3.5z" fill="#000"/></svg></div>
<div id="bot1"></div><div id="bot2"></div>
</div></body></html>
